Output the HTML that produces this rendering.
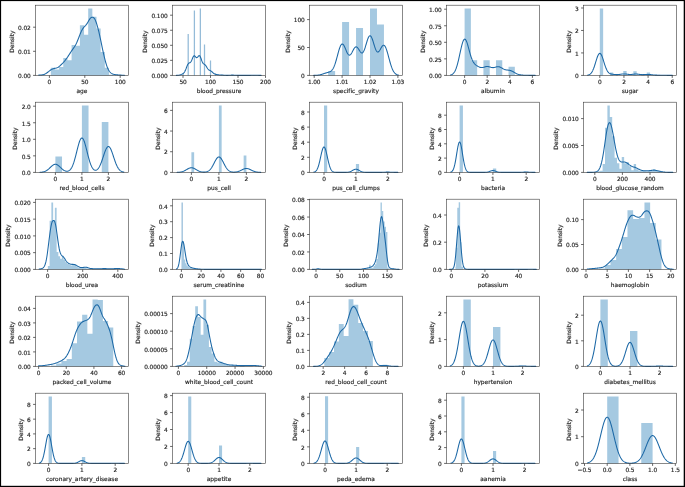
<!DOCTYPE html>
<html lang="en">
<head>
<meta charset="utf-8">
<title>Feature distributions</title>
<style>
html,body{margin:0;padding:0;background:#000;}
body{width:685px;height:487px;overflow:hidden;}
svg{display:block;}
text{font-family:"DejaVu Sans","Liberation Sans",sans-serif;font-size:5.85px;fill:#262626;stroke:#262626;stroke-width:0.17px;letter-spacing:-0.1px;}
.m{text-anchor:middle;}
.e{text-anchor:end;}
.b{fill:#a5c9e1;stroke:none;}
.t{fill:#94bbd8;}
.l{letter-spacing:0.02px;}
.a.tk{stroke-width:0.8;stroke:#404040;}
.k{fill:none;stroke:#1c68a6;stroke-width:1.06;stroke-linejoin:round;stroke-linecap:round;}
.a{fill:none;stroke:#3a3a3a;stroke-width:0.6;}
</style>
</head>
<body>
<svg width="685" height="487" viewBox="0 0 685 487">
<rect x="0" y="0" width="685" height="487" fill="#000"/>
<rect x="1.1" y="1.1" width="682.6" height="484.7" fill="#fff"/>
<g transform="translate(0,0)"><path class="b" d="M50.82 75.4H54.97V67.69H50.82ZM54.97 75.4H59.12V69.62H54.97ZM59.12 75.4H63.28V66.97H59.12ZM63.28 75.4H67.43V58.05H63.28ZM67.43 75.4H71.59V60.22H67.43ZM71.59 75.4H75.74V44.89H71.59ZM75.74 75.4H79.89V45.81H75.74ZM79.89 75.4H84.05V25.27H79.89ZM84.05 75.4H88.2V34.67H84.05ZM88.2 75.4H92.35V8.4H88.2ZM92.35 75.4H96.51V16.84H92.35ZM96.51 75.4H100.66V28.41H96.51ZM100.66 75.4H104.82V52.02H100.66ZM104.82 75.4H108.97V67.69H104.82ZM108.97 75.4H113.12V74.68H108.97Z"/><polyline class="k" points="38.78,75.13 39.14,75.1 39.5,75.07 39.86,75.04 40.21,75.02 40.57,74.99 40.93,74.97 41.29,74.94 41.65,74.92 42.01,74.88 42.36,74.84 42.72,74.78 43.08,74.71 43.44,74.62 43.8,74.52 44.16,74.39 44.52,74.25 44.87,74.08 45.23,73.9 45.59,73.7 45.95,73.49 46.31,73.26 46.67,73.02 47.02,72.77 47.38,72.51 47.74,72.24 48.1,71.96 48.46,71.68 48.82,71.4 49.17,71.11 49.53,70.83 49.89,70.56 50.25,70.3 50.61,70.04 50.97,69.81 51.33,69.59 51.68,69.39 52.04,69.21 52.4,69.05 52.76,68.9 53.12,68.77 53.48,68.66 53.83,68.55 54.19,68.46 54.55,68.38 54.91,68.3 55.27,68.23 55.63,68.16 55.99,68.09 56.34,68 56.7,67.9 57.06,67.78 57.42,67.63 57.78,67.45 58.14,67.24 58.49,67.01 58.85,66.74 59.21,66.45 59.57,66.15 59.93,65.83 60.29,65.51 60.65,65.18 61,64.85 61.36,64.51 61.72,64.17 62.08,63.82 62.44,63.46 62.8,63.09 63.15,62.7 63.51,62.31 63.87,61.9 64.23,61.48 64.59,61.05 64.95,60.61 65.3,60.16 65.66,59.7 66.02,59.23 66.38,58.74 66.74,58.24 67.1,57.73 67.46,57.2 67.81,56.67 68.17,56.13 68.53,55.59 68.89,55.04 69.25,54.49 69.61,53.94 69.96,53.4 70.32,52.85 70.68,52.3 71.04,51.75 71.4,51.2 71.76,50.66 72.12,50.13 72.47,49.62 72.83,49.11 73.19,48.61 73.55,48.11 73.91,47.6 74.27,47.09 74.62,46.54 74.98,45.97 75.34,45.36 75.7,44.71 76.06,44.02 76.42,43.28 76.78,42.5 77.13,41.68 77.49,40.83 77.85,39.94 78.21,39.04 78.57,38.12 78.93,37.19 79.28,36.25 79.64,35.32 80,34.41 80.36,33.52 80.72,32.67 81.08,31.86 81.43,31.1 81.79,30.39 82.15,29.73 82.51,29.13 82.87,28.57 83.23,28.06 83.59,27.59 83.94,27.16 84.3,26.76 84.66,26.38 85.02,26.02 85.38,25.65 85.74,25.27 86.09,24.86 86.45,24.42 86.81,23.92 87.17,23.38 87.53,22.79 87.89,22.17 88.25,21.53 88.6,20.88 88.96,20.26 89.32,19.66 89.68,19.12 90.04,18.65 90.4,18.24 90.75,17.9 91.11,17.63 91.47,17.43 91.83,17.3 92.19,17.23 92.55,17.23 92.9,17.3 93.26,17.45 93.62,17.68 93.98,18 94.34,18.43 94.7,18.97 95.06,19.61 95.41,20.37 95.77,21.23 96.13,22.19 96.49,23.23 96.85,24.36 97.21,25.55 97.56,26.81 97.92,28.13 98.28,29.51 98.64,30.95 99,32.45 99.36,34.01 99.72,35.63 100.07,37.29 100.43,38.98 100.79,40.7 101.15,42.44 101.51,44.17 101.87,45.89 102.22,47.6 102.58,49.29 102.94,50.95 103.3,52.58 103.66,54.18 104.02,55.75 104.38,57.27 104.73,58.73 105.09,60.15 105.45,61.49 105.81,62.76 106.17,63.95 106.53,65.07 106.88,66.1 107.24,67.05 107.6,67.93 107.96,68.73 108.32,69.46 108.68,70.12 109.03,70.72 109.39,71.27 109.75,71.75 110.11,72.18 110.47,72.56 110.83,72.89 111.19,73.18 111.54,73.42 111.9,73.64 112.26,73.82 112.62,73.97 112.98,74.1 113.34,74.22 113.69,74.32 114.05,74.41 114.41,74.48 114.77,74.55 115.13,74.61 115.49,74.67 115.85,74.71 116.2,74.76 116.56,74.79 116.92,74.83 117.28,74.86 117.64,74.89 118,74.92 118.35,74.95 118.71,74.98 119.07,75 119.43,75.03 119.79,75.06 120.15,75.09 120.51,75.11 120.86,75.13 121.22,75.15 121.58,75.17 121.94,75.19 122.3,75.2 122.66,75.21 123.01,75.23 123.37,75.24 123.73,75.25 124.09,75.26 124.45,75.27"/><rect class="a" x="35.6" y="5.2" width="92.8" height="70.2"/><path class="a tk" d="M49.4 75.4v2.5M84.8 75.4v2.5M120.2 75.4v2.5M35.6 75.4h-2.5M35.6 51.3h-2.5M35.6 27.2h-2.5"/><text class="m" x="49.4" y="84.15">0</text><text class="m" x="84.8" y="84.15">50</text><text class="m" x="120.2" y="84.15">100</text><text class="e" x="30.7" y="78.15">0.00</text><text class="e" x="30.7" y="54.05">0.01</text><text class="e" x="30.7" y="29.95">0.02</text><text class="m l" x="82" y="92.6">age</text><text class="m l" transform="translate(14.3,41.7) rotate(-90)">Density</text></g>
<g transform="translate(137,0)"><path class="b t" d="M45.47 75.4H46.73V72.99H45.47ZM50.57 75.4H51.83V33.98H50.57ZM56.77 75.4H58.03V10.38H56.77ZM62.72 75.4H63.98V8.58H62.72ZM66.87 75.4H68.13V44.4H66.87ZM72.87 75.4H74.13V60.59H72.87ZM77.97 75.4H79.23V73.59H77.97ZM83.87 75.4H85.13V74.68H83.87ZM94.87 75.4H96.13V74.92H94.87ZM116.27 75.4H117.53V74.92H116.27Z"/><polyline class="k" points="39.4,75.38 39.75,75.37 40.11,75.35 40.46,75.33 40.82,75.3 41.17,75.26 41.53,75.22 41.88,75.15 42.24,75.08 42.59,74.99 42.94,74.89 43.3,74.78 43.65,74.65 44.01,74.52 44.36,74.38 44.72,74.23 45.07,74.07 45.42,73.9 45.78,73.71 46.13,73.48 46.49,73.2 46.84,72.86 47.2,72.45 47.55,71.93 47.91,71.32 48.26,70.6 48.61,69.79 48.97,68.9 49.32,67.97 49.68,67.03 50.03,66.12 50.39,65.28 50.74,64.56 51.09,63.97 51.45,63.52 51.8,63.2 52.16,62.99 52.51,62.84 52.87,62.7 53.22,62.5 53.58,62.21 53.93,61.77 54.28,61.18 54.64,60.45 54.99,59.6 55.35,58.71 55.7,57.83 56.06,57.04 56.41,56.41 56.77,55.98 57.12,55.79 57.47,55.82 57.83,56.04 58.18,56.4 58.54,56.81 58.89,57.2 59.25,57.5 59.6,57.64 59.95,57.6 60.31,57.4 60.66,57.05 61.02,56.62 61.37,56.19 61.73,55.83 62.08,55.64 62.44,55.66 62.79,55.92 63.14,56.43 63.5,57.16 63.85,58.05 64.21,59.05 64.56,60.06 64.92,61.03 65.27,61.89 65.63,62.61 65.98,63.17 66.33,63.58 66.69,63.89 67.04,64.12 67.4,64.32 67.75,64.55 68.11,64.84 68.46,65.21 68.81,65.66 69.17,66.19 69.52,66.77 69.88,67.37 70.23,67.97 70.59,68.52 70.94,69 71.3,69.41 71.65,69.73 72,69.99 72.36,70.19 72.71,70.35 73.07,70.51 73.42,70.67 73.78,70.87 74.13,71.1 74.48,71.37 74.84,71.68 75.19,72.01 75.55,72.35 75.9,72.69 76.26,73.01 76.61,73.3 76.97,73.56 77.32,73.78 77.67,73.96 78.03,74.11 78.38,74.23 78.74,74.33 79.09,74.42 79.45,74.49 79.8,74.56 80.16,74.62 80.51,74.68 80.86,74.74 81.22,74.79 81.57,74.84 81.93,74.88 82.28,74.91 82.64,74.94 82.99,74.95 83.34,74.97 83.7,74.98 84.05,75 84.41,75.01 84.76,75.03 85.12,75.05 85.47,75.07 85.83,75.1 86.18,75.13 86.53,75.16 86.89,75.2 87.24,75.23 87.6,75.26 87.95,75.29 88.31,75.31 88.66,75.33 89.02,75.34 89.37,75.35 89.72,75.36 90.08,75.36 90.43,75.36 90.79,75.36 91.14,75.35 91.5,75.33 91.85,75.32 92.2,75.3 92.56,75.27 92.91,75.25 93.27,75.22 93.62,75.19 93.98,75.17 94.33,75.15 94.69,75.13 95.04,75.12 95.39,75.11 95.75,75.12 96.1,75.12 96.46,75.14 96.81,75.16 97.17,75.18 97.52,75.2 97.87,75.23 98.23,75.26 98.58,75.28 98.94,75.31 99.29,75.33 99.65,75.34 100,75.36 100.36,75.37 100.71,75.38 101.06,75.38 101.42,75.39 101.77,75.39 102.13,75.4 102.48,75.4 102.84,75.4 103.19,75.4 103.55,75.4 103.9,75.4 104.25,75.4 104.61,75.4 104.96,75.4 105.32,75.4 105.67,75.4 106.03,75.4 106.38,75.4 106.73,75.4 107.09,75.4 107.44,75.4 107.8,75.4 108.15,75.4 108.51,75.4 108.86,75.4 109.22,75.4 109.57,75.4 109.92,75.4 110.28,75.4 110.63,75.4 110.99,75.4 111.34,75.39 111.7,75.39 112.05,75.39 112.41,75.38 112.76,75.37 113.11,75.36 113.47,75.35 113.82,75.34 114.18,75.32 114.53,75.3 114.89,75.28 115.24,75.26 115.59,75.24 115.95,75.22 116.3,75.2 116.66,75.19 117.01,75.18 117.37,75.17 117.72,75.17 118.08,75.18 118.43,75.19 118.78,75.2 119.14,75.22 119.49,75.24 119.85,75.26 120.2,75.28 120.56,75.3 120.91,75.32 121.26,75.34 121.62,75.35 121.97,75.36 122.33,75.37 122.68,75.38 123.04,75.39 123.39,75.39 123.75,75.39 124.1,75.4"/><rect class="a" x="35.6" y="5.2" width="92.8" height="70.2"/><path class="a tk" d="M46 75.4v2.5M73.5 75.4v2.5M101 75.4v2.5M128.5 75.4v2.5M35.6 75.4h-2.5M35.6 60.35h-2.5M35.6 45.3h-2.5M35.6 30.25h-2.5M35.6 15.2h-2.5"/><text class="m" x="46" y="84.15">50</text><text class="m" x="73.5" y="84.15">100</text><text class="m" x="101" y="84.15">150</text><text class="m" x="128.5" y="84.15">200</text><text class="e" x="30.7" y="78.15">0.000</text><text class="e" x="30.7" y="63.1">0.025</text><text class="e" x="30.7" y="48.05">0.050</text><text class="e" x="30.7" y="33">0.075</text><text class="e" x="30.7" y="17.95">0.100</text><text class="m l" x="82" y="92.6">blood_pressure</text><text class="m l" transform="translate(10.3,41.7) rotate(-90)">Density</text></g>
<g transform="translate(274,0)"><path class="b" d="M54.15 75.4H61.12V70.99H54.15ZM68.1 75.4H75.07V22H68.1ZM82.05 75.4H89.03V27.97H82.05ZM96 75.4H102.97V8.44H96ZM102.97 75.4H109.95V24.4H102.97Z"/><polyline class="k" points="39.75,75.37 40.11,75.36 40.46,75.36 40.82,75.35 41.17,75.33 41.52,75.32 41.88,75.3 42.23,75.28 42.59,75.26 42.94,75.23 43.29,75.2 43.65,75.16 44,75.12 44.35,75.08 44.71,75.03 45.06,74.97 45.42,74.91 45.77,74.84 46.12,74.76 46.48,74.68 46.83,74.59 47.19,74.49 47.54,74.39 47.89,74.29 48.25,74.18 48.6,74.07 48.96,73.95 49.31,73.83 49.66,73.71 50.02,73.59 50.37,73.47 50.73,73.35 51.08,73.23 51.43,73.12 51.79,73.01 52.14,72.91 52.5,72.8 52.85,72.71 53.2,72.61 53.56,72.52 53.91,72.42 54.27,72.33 54.62,72.23 54.97,72.12 55.33,71.99 55.68,71.85 56.04,71.69 56.39,71.5 56.74,71.28 57.1,71.02 57.45,70.72 57.8,70.37 58.16,69.96 58.51,69.48 58.87,68.94 59.22,68.33 59.57,67.65 59.93,66.89 60.28,66.05 60.64,65.13 60.99,64.14 61.34,63.07 61.7,61.94 62.05,60.75 62.41,59.5 62.76,58.22 63.11,56.91 63.47,55.58 63.82,54.25 64.18,52.94 64.53,51.66 64.88,50.43 65.24,49.27 65.59,48.19 65.95,47.21 66.3,46.34 66.65,45.59 67.01,44.99 67.36,44.52 67.72,44.2 68.07,44.03 68.42,44.02 68.78,44.15 69.13,44.42 69.48,44.82 69.84,45.34 70.19,45.96 70.55,46.68 70.9,47.46 71.25,48.28 71.61,49.14 71.96,50 72.32,50.86 72.67,51.67 73.02,52.44 73.38,53.13 73.73,53.74 74.09,54.25 74.44,54.65 74.79,54.94 75.15,55.1 75.5,55.14 75.86,55.06 76.21,54.86 76.56,54.55 76.92,54.14 77.27,53.65 77.63,53.08 77.98,52.46 78.33,51.8 78.69,51.11 79.04,50.43 79.4,49.76 79.75,49.13 80.1,48.55 80.46,48.04 80.81,47.61 81.17,47.27 81.52,47.04 81.87,46.9 82.23,46.88 82.58,46.96 82.93,47.15 83.29,47.43 83.64,47.8 84,48.24 84.35,48.74 84.7,49.29 85.06,49.86 85.41,50.43 85.77,50.99 86.12,51.52 86.47,51.99 86.83,52.38 87.18,52.69 87.54,52.89 87.89,52.97 88.24,52.92 88.6,52.74 88.95,52.41 89.31,51.95 89.66,51.35 90.01,50.62 90.37,49.77 90.72,48.81 91.08,47.76 91.43,46.64 91.78,45.47 92.14,44.27 92.49,43.06 92.85,41.88 93.2,40.74 93.55,39.66 93.91,38.69 94.26,37.82 94.62,37.08 94.97,36.5 95.32,36.07 95.68,35.82 96.03,35.74 96.38,35.84 96.74,36.11 97.09,36.55 97.45,37.14 97.8,37.89 98.15,38.75 98.51,39.73 98.86,40.79 99.22,41.91 99.57,43.07 99.92,44.25 100.28,45.41 100.63,46.53 100.99,47.59 101.34,48.57 101.69,49.46 102.05,50.22 102.4,50.87 102.76,51.37 103.11,51.73 103.46,51.95 103.82,52.03 104.17,51.97 104.53,51.78 104.88,51.47 105.23,51.06 105.59,50.56 105.94,50 106.3,49.38 106.65,48.75 107,48.11 107.36,47.48 107.71,46.9 108.06,46.38 108.42,45.93 108.77,45.58 109.13,45.34 109.48,45.22 109.83,45.23 110.19,45.37 110.54,45.66 110.9,46.08 111.25,46.64 111.6,47.34 111.96,48.15 112.31,49.08 112.67,50.11 113.02,51.23 113.37,52.42 113.73,53.67 114.08,54.95 114.44,56.27 114.79,57.6 115.14,58.92 115.5,60.23 115.85,61.51 116.21,62.75 116.56,63.94 116.91,65.08 117.27,66.15 117.62,67.16 117.98,68.09 118.33,68.96 118.68,69.75 119.04,70.48 119.39,71.13 119.75,71.72 120.1,72.24 120.45,72.7 120.81,73.11 121.16,73.47 121.51,73.78 121.87,74.05 122.22,74.28 122.58,74.47 122.93,74.64 123.28,74.78 123.64,74.89 123.99,74.99 124.35,75.07"/><rect class="a" x="35.6" y="5.2" width="92.8" height="70.2"/><path class="a tk" d="M40.2 75.4v2.5M68.1 75.4v2.5M96 75.4v2.5M123.9 75.4v2.5M35.6 75.4h-2.5M35.6 47.5h-2.5M35.6 19.6h-2.5"/><text class="m" x="40.2" y="84.15">1.00</text><text class="m" x="68.1" y="84.15">1.01</text><text class="m" x="96" y="84.15">1.02</text><text class="m" x="123.9" y="84.15">1.03</text><text class="e" x="30.7" y="78.15">0</text><text class="e" x="30.7" y="50.25">50</text><text class="e" x="30.7" y="22.35">100</text><text class="m l" x="82" y="92.6">specific_gravity</text><text class="m l" transform="translate(15.7,41.7) rotate(-90)">Density</text></g>
<g transform="translate(411,0)"><path class="b" d="M53.6 75.4H59.88V8.41H53.6ZM59.88 75.4H66.16V60.37H59.88ZM72.43 75.4H78.71V60.37H72.43ZM84.99 75.4H91.27V60.37H84.99ZM97.54 75.4H103.82V66.79H97.54ZM103.82 75.4H110.1V75H103.82Z"/><polyline class="k" points="39.53,75 39.89,74.9 40.24,74.78 40.59,74.63 40.95,74.46 41.3,74.25 41.66,74 42.01,73.71 42.36,73.37 42.72,72.97 43.07,72.52 43.43,71.99 43.78,71.4 44.14,70.73 44.49,69.97 44.84,69.13 45.2,68.21 45.55,67.19 45.91,66.08 46.26,64.88 46.61,63.59 46.97,62.22 47.32,60.78 47.68,59.26 48.03,57.7 48.38,56.09 48.74,54.45 49.09,52.81 49.45,51.17 49.8,49.56 50.16,48 50.51,46.51 50.86,45.11 51.22,43.81 51.57,42.65 51.93,41.63 52.28,40.77 52.63,40.08 52.99,39.58 53.34,39.26 53.7,39.14 54.05,39.2 54.4,39.46 54.76,39.89 55.11,40.5 55.47,41.26 55.82,42.16 56.18,43.18 56.53,44.31 56.88,45.51 57.24,46.78 57.59,48.09 57.95,49.42 58.3,50.75 58.65,52.06 59.01,53.33 59.36,54.56 59.72,55.74 60.07,56.84 60.43,57.87 60.78,58.82 61.13,59.69 61.49,60.48 61.84,61.2 62.2,61.84 62.55,62.42 62.9,62.93 63.26,63.39 63.61,63.79 63.97,64.16 64.32,64.49 64.67,64.8 65.03,65.08 65.38,65.34 65.74,65.59 66.09,65.82 66.45,66.04 66.8,66.26 67.15,66.46 67.51,66.65 67.86,66.83 68.22,66.99 68.57,67.14 68.92,67.27 69.28,67.38 69.63,67.46 69.99,67.53 70.34,67.56 70.69,67.58 71.05,67.57 71.4,67.53 71.76,67.48 72.11,67.41 72.47,67.32 72.82,67.22 73.17,67.12 73.53,67.01 73.88,66.9 74.24,66.8 74.59,66.71 74.94,66.63 75.3,66.57 75.65,66.53 76.01,66.5 76.36,66.5 76.72,66.52 77.07,66.57 77.42,66.63 77.78,66.7 78.13,66.79 78.49,66.89 78.84,67 79.19,67.11 79.55,67.22 79.9,67.32 80.26,67.41 80.61,67.49 80.96,67.55 81.32,67.59 81.67,67.62 82.03,67.62 82.38,67.6 82.74,67.56 83.09,67.5 83.44,67.43 83.8,67.34 84.15,67.24 84.51,67.14 84.86,67.04 85.21,66.95 85.57,66.86 85.92,66.78 86.28,66.72 86.63,66.68 86.98,66.67 87.34,66.68 87.69,66.71 88.05,66.78 88.4,66.86 88.76,66.98 89.11,67.12 89.46,67.28 89.82,67.45 90.17,67.64 90.53,67.85 90.88,68.06 91.23,68.27 91.59,68.48 91.94,68.68 92.3,68.87 92.65,69.06 93.01,69.23 93.36,69.38 93.71,69.51 94.07,69.63 94.42,69.73 94.78,69.82 95.13,69.89 95.48,69.95 95.84,69.99 96.19,70.03 96.55,70.07 96.9,70.1 97.25,70.13 97.61,70.17 97.96,70.22 98.32,70.27 98.67,70.34 99.03,70.42 99.38,70.51 99.73,70.62 100.09,70.75 100.44,70.89 100.8,71.04 101.15,71.21 101.5,71.39 101.86,71.58 102.21,71.78 102.57,71.98 102.92,72.19 103.27,72.4 103.63,72.61 103.98,72.81 104.34,73.02 104.69,73.21 105.05,73.4 105.4,73.58 105.75,73.75 106.11,73.9 106.46,74.05 106.82,74.19 107.17,74.31 107.52,74.42 107.88,74.53 108.23,74.62 108.59,74.7 108.94,74.77 109.3,74.84 109.65,74.89 110,74.94 110.36,74.99 110.71,75.03 111.07,75.06 111.42,75.09 111.77,75.12 112.13,75.15 112.48,75.17 112.84,75.19 113.19,75.21 113.54,75.22 113.9,75.24 114.25,75.25 114.61,75.26 114.96,75.28 115.32,75.29 115.67,75.3 116.02,75.31 116.38,75.32 116.73,75.33 117.09,75.33 117.44,75.34 117.79,75.35 118.15,75.36 118.5,75.36 118.86,75.37 119.21,75.37 119.56,75.37 119.92,75.38 120.27,75.38 120.63,75.38 120.98,75.39 121.34,75.39 121.69,75.39 122.04,75.39 122.4,75.39 122.75,75.39 123.11,75.4 123.46,75.4 123.81,75.4 124.17,75.4"/><rect class="a" x="35.6" y="5.2" width="92.8" height="70.2"/><path class="a tk" d="M53.6 75.4v2.5M76.2 75.4v2.5M98.8 75.4v2.5M121.4 75.4v2.5M35.6 75.4h-2.5M35.6 58.85h-2.5M35.6 42.3h-2.5M35.6 25.75h-2.5M35.6 9.2h-2.5"/><text class="m" x="53.6" y="84.15">0</text><text class="m" x="76.2" y="84.15">2</text><text class="m" x="98.8" y="84.15">4</text><text class="m" x="121.4" y="84.15">6</text><text class="e" x="30.7" y="78.15">0.00</text><text class="e" x="30.7" y="61.6">0.25</text><text class="e" x="30.7" y="45.05">0.50</text><text class="e" x="30.7" y="28.5">0.75</text><text class="e" x="30.7" y="11.95">1.00</text><text class="m l" x="82" y="92.6">albumin</text><text class="m l" transform="translate(14.3,41.7) rotate(-90)">Density</text></g>
<g transform="translate(548,0)"><path class="b" d="M51.8 75.4H55.15V8.44H51.8ZM61.86 75.4H65.21V72.48H61.86ZM75.27 75.4H78.62V70.91H75.27ZM85.33 75.4H88.68V71.36H85.33ZM98.74 75.4H102.09V72.48H98.74ZM108.8 75.4H112.15V74.73H108.8Z"/><polyline class="k" points="39.6,75.16 39.95,75.08 40.31,74.99 40.66,74.88 41.02,74.74 41.37,74.58 41.72,74.38 42.08,74.13 42.43,73.85 42.79,73.51 43.14,73.11 43.5,72.66 43.85,72.13 44.21,71.54 44.56,70.88 44.92,70.14 45.27,69.33 45.63,68.44 45.98,67.49 46.34,66.47 46.69,65.4 47.04,64.28 47.4,63.13 47.75,61.97 48.11,60.81 48.46,59.67 48.82,58.57 49.17,57.52 49.53,56.56 49.88,55.69 50.24,54.94 50.59,54.32 50.95,53.85 51.3,53.53 51.65,53.38 52.01,53.39 52.36,53.57 52.72,53.91 53.07,54.4 53.43,55.03 53.78,55.8 54.14,56.67 54.49,57.64 54.85,58.68 55.2,59.77 55.56,60.9 55.91,62.04 56.26,63.17 56.62,64.29 56.97,65.36 57.33,66.39 57.68,67.36 58.04,68.26 58.39,69.09 58.75,69.84 59.1,70.52 59.46,71.12 59.81,71.65 60.17,72.11 60.52,72.5 60.87,72.84 61.23,73.12 61.58,73.36 61.94,73.55 62.29,73.72 62.65,73.85 63,73.96 63.36,74.05 63.71,74.12 64.07,74.19 64.42,74.25 64.78,74.3 65.13,74.34 65.48,74.38 65.84,74.42 66.19,74.46 66.55,74.5 66.9,74.53 67.26,74.56 67.61,74.58 67.97,74.6 68.32,74.61 68.68,74.62 69.03,74.62 69.39,74.62 69.74,74.6 70.1,74.58 70.45,74.55 70.8,74.52 71.16,74.47 71.51,74.43 71.87,74.37 72.22,74.32 72.58,74.26 72.93,74.21 73.29,74.15 73.64,74.1 74,74.05 74.35,74.01 74.71,73.97 75.06,73.94 75.41,73.92 75.77,73.91 76.12,73.91 76.48,73.92 76.83,73.94 77.19,73.96 77.54,73.99 77.9,74.03 78.25,74.08 78.61,74.13 78.96,74.18 79.32,74.23 79.67,74.28 80.02,74.32 80.38,74.36 80.73,74.4 81.09,74.43 81.44,74.45 81.8,74.47 82.15,74.47 82.51,74.47 82.86,74.46 83.22,74.44 83.57,74.41 83.93,74.38 84.28,74.35 84.63,74.31 84.99,74.27 85.34,74.22 85.7,74.18 86.05,74.15 86.41,74.11 86.76,74.08 87.12,74.06 87.47,74.05 87.83,74.04 88.18,74.04 88.54,74.05 88.89,74.07 89.24,74.1 89.6,74.13 89.95,74.17 90.31,74.21 90.66,74.26 91.02,74.31 91.37,74.36 91.73,74.41 92.08,74.46 92.44,74.5 92.79,74.54 93.15,74.58 93.5,74.61 93.85,74.63 94.21,74.65 94.56,74.65 94.92,74.66 95.27,74.65 95.63,74.64 95.98,74.63 96.34,74.61 96.69,74.59 97.05,74.56 97.4,74.54 97.76,74.51 98.11,74.49 98.47,74.47 98.82,74.45 99.17,74.43 99.53,74.43 99.88,74.42 100.24,74.43 100.59,74.44 100.95,74.45 101.3,74.47 101.66,74.5 102.01,74.53 102.37,74.57 102.72,74.61 103.08,74.65 103.43,74.7 103.78,74.74 104.14,74.79 104.49,74.83 104.85,74.88 105.2,74.92 105.56,74.96 105.91,74.99 106.27,75.02 106.62,75.05 106.98,75.08 107.33,75.1 107.69,75.12 108.04,75.13 108.39,75.14 108.75,75.15 109.1,75.16 109.46,75.16 109.81,75.16 110.17,75.17 110.52,75.17 110.88,75.17 111.23,75.17 111.59,75.17 111.94,75.17 112.3,75.18 112.65,75.18 113,75.19 113.36,75.19 113.71,75.2 114.07,75.21 114.42,75.22 114.78,75.23 115.13,75.24 115.49,75.25 115.84,75.26 116.2,75.27 116.55,75.28 116.91,75.29 117.26,75.3 117.61,75.31 117.97,75.32 118.32,75.33 118.68,75.34 119.03,75.35 119.39,75.36 119.74,75.36 120.1,75.37 120.45,75.37 120.81,75.38 121.16,75.38 121.52,75.38 121.87,75.39 122.23,75.39 122.58,75.39 122.93,75.39 123.29,75.39 123.64,75.4 124,75.4 124.35,75.4"/><rect class="a" x="35.6" y="5.2" width="92.8" height="70.2"/><path class="a tk" d="M51.8 75.4v2.5M75.94 75.4v2.5M100.08 75.4v2.5M124.22 75.4v2.5M35.6 75.4h-2.5M35.6 52.93h-2.5M35.6 30.46h-2.5M35.6 7.99h-2.5"/><text class="m" x="51.8" y="84.15">0</text><text class="m" x="75.94" y="84.15">2</text><text class="m" x="100.08" y="84.15">4</text><text class="m" x="124.22" y="84.15">6</text><text class="e" x="30.7" y="78.15">0</text><text class="e" x="30.7" y="55.68">1</text><text class="e" x="30.7" y="33.21">2</text><text class="e" x="30.7" y="10.74">3</text><text class="m l" x="82" y="92.6">sugar</text><text class="m l" transform="translate(23.3,41.7) rotate(-90)">Density</text></g>
<g transform="translate(0,97)"><path class="b" d="M55.4 75.4H62.02V59.61H55.4ZM81.9 75.4H88.53V8.54H81.9ZM101.78 75.4H108.4V25.09H101.78Z"/><polyline class="k" points="39.98,75.31 40.33,75.29 40.68,75.27 41.03,75.24 41.38,75.2 41.73,75.16 42.08,75.12 42.43,75.06 42.78,75 43.13,74.93 43.49,74.85 43.84,74.75 44.19,74.65 44.54,74.53 44.89,74.4 45.24,74.25 45.59,74.09 45.94,73.91 46.29,73.71 46.64,73.5 46.99,73.27 47.34,73.03 47.7,72.77 48.05,72.49 48.4,72.2 48.75,71.89 49.1,71.58 49.45,71.25 49.8,70.92 50.15,70.59 50.5,70.26 50.85,69.92 51.2,69.6 51.55,69.28 51.9,68.97 52.26,68.68 52.61,68.41 52.96,68.16 53.31,67.94 53.66,67.75 54.01,67.59 54.36,67.46 54.71,67.37 55.06,67.32 55.41,67.3 55.76,67.32 56.11,67.38 56.47,67.47 56.82,67.6 57.17,67.76 57.52,67.96 57.87,68.18 58.22,68.43 58.57,68.7 58.92,68.99 59.27,69.3 59.62,69.62 59.97,69.94 60.32,70.28 60.68,70.61 61.03,70.94 61.38,71.27 61.73,71.59 62.08,71.9 62.43,72.19 62.78,72.48 63.13,72.74 63.48,72.99 63.83,73.22 64.18,73.43 64.53,73.61 64.89,73.78 65.24,73.92 65.59,74.04 65.94,74.13 66.29,74.2 66.64,74.24 66.99,74.25 67.34,74.23 67.69,74.18 68.04,74.1 68.39,73.98 68.74,73.82 69.1,73.62 69.45,73.38 69.8,73.09 70.15,72.75 70.5,72.35 70.85,71.9 71.2,71.39 71.55,70.81 71.9,70.17 72.25,69.45 72.6,68.67 72.95,67.81 73.3,66.88 73.66,65.88 74.01,64.81 74.36,63.67 74.71,62.47 75.06,61.21 75.41,59.9 75.76,58.55 76.11,57.16 76.46,55.75 76.81,54.33 77.16,52.91 77.51,51.51 77.87,50.14 78.22,48.81 78.57,47.54 78.92,46.35 79.27,45.25 79.62,44.25 79.97,43.36 80.32,42.61 80.67,41.99 81.02,41.52 81.37,41.21 81.72,41.05 82.08,41.05 82.43,41.21 82.78,41.52 83.13,41.99 83.48,42.61 83.83,43.36 84.18,44.25 84.53,45.25 84.88,46.35 85.23,47.54 85.58,48.81 85.93,50.13 86.29,51.51 86.64,52.91 86.99,54.33 87.34,55.75 87.69,57.16 88.04,58.54 88.39,59.89 88.74,61.2 89.09,62.46 89.44,63.65 89.79,64.79 90.14,65.85 90.5,66.84 90.85,67.76 91.2,68.6 91.55,69.37 91.9,70.06 92.25,70.68 92.6,71.23 92.95,71.71 93.3,72.11 93.65,72.46 94,72.74 94.35,72.95 94.7,73.11 95.06,73.21 95.41,73.25 95.76,73.23 96.11,73.16 96.46,73.03 96.81,72.85 97.16,72.61 97.51,72.31 97.86,71.96 98.21,71.54 98.56,71.07 98.91,70.54 99.27,69.95 99.62,69.3 99.97,68.59 100.32,67.83 100.67,67.01 101.02,66.14 101.37,65.22 101.72,64.26 102.07,63.26 102.42,62.23 102.77,61.18 103.12,60.11 103.48,59.05 103.83,57.98 104.18,56.94 104.53,55.92 104.88,54.94 105.23,54.01 105.58,53.15 105.93,52.35 106.28,51.64 106.63,51.02 106.98,50.5 107.33,50.08 107.69,49.78 108.04,49.6 108.39,49.53 108.74,49.59 109.09,49.77 109.44,50.06 109.79,50.46 110.14,50.98 110.49,51.59 110.84,52.3 111.19,53.08 111.54,53.95 111.9,54.87 112.25,55.85 112.6,56.86 112.95,57.91 113.3,58.97 113.65,60.04 114,61.11 114.35,62.16 114.7,63.2 115.05,64.2 115.4,65.17 115.75,66.1 116.1,66.99 116.46,67.82 116.81,68.61 117.16,69.34 117.51,70.02 117.86,70.64 118.21,71.21 118.56,71.73 118.91,72.2 119.26,72.62 119.61,73 119.96,73.34 120.31,73.64 120.67,73.9 121.02,74.13 121.37,74.33 121.72,74.5 122.07,74.65 122.42,74.77 122.77,74.88 123.12,74.97 123.47,75.05 123.82,75.11"/><rect class="a" x="35.6" y="5.2" width="92.8" height="70.2"/><path class="a tk" d="M55.4 75.4v2.5M81.9 75.4v2.5M108.4 75.4v2.5M35.6 75.4h-2.5M35.6 58.85h-2.5M35.6 42.3h-2.5M35.6 25.75h-2.5M35.6 9.2h-2.5"/><text class="m" x="55.4" y="84.15">0</text><text class="m" x="81.9" y="84.15">1</text><text class="m" x="108.4" y="84.15">2</text><text class="e" x="30.7" y="78.15">0.0</text><text class="e" x="30.7" y="61.6">0.5</text><text class="e" x="30.7" y="45.05">1.0</text><text class="e" x="30.7" y="28.5">1.5</text><text class="e" x="30.7" y="11.95">2.0</text><text class="m l" x="82" y="92.6">red_blood_cells</text><text class="m l" transform="translate(17.3,41.7) rotate(-90)">Density</text></g>
<g transform="translate(137,97)"><path class="b" d="M54.4 75.4H57.15V55.25H54.4ZM81.9 75.4H84.65V8.43H81.9ZM106.65 75.4H109.4V58.4H106.65Z"/><polyline class="k" points="40.09,75.35 40.44,75.34 40.79,75.32 41.14,75.3 41.49,75.28 41.84,75.26 42.19,75.23 42.54,75.19 42.89,75.15 43.24,75.1 43.59,75.04 43.94,74.98 44.29,74.91 44.64,74.83 44.98,74.74 45.33,74.64 45.68,74.53 46.03,74.4 46.38,74.27 46.73,74.13 47.08,73.97 47.43,73.8 47.78,73.63 48.13,73.44 48.48,73.25 48.83,73.05 49.18,72.85 49.53,72.65 49.88,72.44 50.23,72.24 50.58,72.03 50.93,71.84 51.28,71.66 51.63,71.48 51.98,71.32 52.33,71.18 52.68,71.06 53.03,70.95 53.38,70.87 53.73,70.81 54.08,70.78 54.43,70.77 54.78,70.78 55.13,70.82 55.48,70.88 55.83,70.97 56.18,71.08 56.53,71.21 56.88,71.35 57.23,71.51 57.58,71.69 57.93,71.88 58.28,72.07 58.63,72.27 58.98,72.48 59.33,72.68 59.68,72.89 60.03,73.09 60.38,73.29 60.73,73.48 61.08,73.66 61.43,73.83 61.78,74 62.13,74.15 62.48,74.29 62.83,74.42 63.18,74.54 63.53,74.65 63.88,74.74 64.23,74.83 64.58,74.9 64.93,74.97 65.28,75.02 65.63,75.06 65.98,75.1 66.33,75.12 66.68,75.14 67.03,75.14 67.38,75.14 67.73,75.12 68.08,75.09 68.43,75.05 68.78,75 69.13,74.93 69.48,74.85 69.83,74.75 70.18,74.63 70.53,74.49 70.88,74.32 71.23,74.13 71.58,73.91 71.93,73.66 72.28,73.38 72.63,73.07 72.98,72.72 73.33,72.33 73.68,71.91 74.03,71.45 74.38,70.96 74.73,70.43 75.08,69.86 75.43,69.27 75.78,68.64 76.13,67.99 76.48,67.33 76.83,66.65 77.18,65.97 77.53,65.28 77.88,64.61 78.23,63.95 78.58,63.32 78.93,62.72 79.28,62.16 79.63,61.65 79.98,61.2 80.33,60.82 80.68,60.5 81.03,60.26 81.38,60.09 81.73,60.01 82.07,60.01 82.42,60.09 82.77,60.26 83.12,60.5 83.47,60.82 83.82,61.2 84.17,61.65 84.52,62.16 84.87,62.72 85.22,63.32 85.57,63.95 85.92,64.61 86.27,65.28 86.62,65.97 86.97,66.65 87.32,67.33 87.67,67.99 88.02,68.64 88.37,69.27 88.72,69.86 89.07,70.43 89.42,70.96 89.77,71.45 90.12,71.91 90.47,72.33 90.82,72.72 91.17,73.07 91.52,73.38 91.87,73.66 92.22,73.91 92.57,74.13 92.92,74.32 93.27,74.49 93.62,74.63 93.97,74.75 94.32,74.85 94.67,74.94 95.02,75.01 95.37,75.06 95.72,75.1 96.07,75.13 96.42,75.15 96.77,75.16 97.12,75.16 97.47,75.15 97.82,75.14 98.17,75.11 98.52,75.07 98.87,75.03 99.22,74.98 99.57,74.92 99.92,74.84 100.27,74.76 100.62,74.67 100.97,74.57 101.32,74.46 101.67,74.34 102.02,74.22 102.37,74.08 102.72,73.93 103.07,73.78 103.42,73.62 103.77,73.45 104.12,73.28 104.47,73.11 104.82,72.93 105.17,72.76 105.52,72.59 105.87,72.43 106.22,72.27 106.57,72.12 106.92,71.99 107.27,71.86 107.62,71.75 107.97,71.66 108.32,71.59 108.67,71.54 109.02,71.5 109.37,71.49 109.72,71.5 110.07,71.53 110.42,71.58 110.77,71.65 111.12,71.74 111.47,71.84 111.82,71.96 112.17,72.1 112.52,72.24 112.87,72.4 113.22,72.56 113.57,72.73 113.92,72.9 114.27,73.08 114.62,73.25 114.97,73.42 115.32,73.59 115.67,73.75 116.02,73.91 116.37,74.05 116.72,74.19 117.07,74.32 117.42,74.45 117.77,74.56 118.12,74.66 118.47,74.76 118.82,74.84 119.16,74.92 119.51,74.99 119.86,75.05 120.21,75.1 120.56,75.15 120.91,75.19 121.26,75.22 121.61,75.25 121.96,75.28 122.31,75.3 122.66,75.32 123.01,75.33 123.36,75.35 123.71,75.36"/><rect class="a" x="35.6" y="5.2" width="92.8" height="70.2"/><path class="a tk" d="M54.4 75.4v2.5M81.9 75.4v2.5M109.4 75.4v2.5M35.6 75.4h-2.5M35.6 54.73h-2.5M35.6 34.06h-2.5M35.6 13.39h-2.5"/><text class="m" x="54.4" y="84.15">0</text><text class="m" x="81.9" y="84.15">1</text><text class="m" x="109.4" y="84.15">2</text><text class="e" x="30.7" y="78.15">0</text><text class="e" x="30.7" y="57.48">2</text><text class="e" x="30.7" y="36.81">4</text><text class="e" x="30.7" y="16.14">6</text><text class="m l" x="82" y="92.6">pus_cell</text><text class="m l" transform="translate(23.3,41.7) rotate(-90)">Density</text></g>
<g transform="translate(274,97)"><path class="b" d="M50 75.4H53.19V8.43H50ZM81.9 75.4H85.09V67.02H81.9ZM110.61 75.4H113.8V74.65H110.61Z"/><polyline class="k" points="39.95,75.12 40.3,75.02 40.65,74.88 41,74.71 41.36,74.49 41.71,74.21 42.06,73.87 42.41,73.45 42.76,72.94 43.11,72.33 43.46,71.61 43.81,70.78 44.16,69.82 44.51,68.74 44.87,67.54 45.22,66.22 45.57,64.8 45.92,63.29 46.27,61.71 46.62,60.1 46.97,58.49 47.32,56.91 47.67,55.41 48.03,54.01 48.38,52.78 48.73,51.73 49.08,50.9 49.43,50.32 49.78,50.01 50.13,49.98 50.48,50.22 50.83,50.73 51.18,51.5 51.54,52.49 51.89,53.69 52.24,55.04 52.59,56.53 52.94,58.09 53.29,59.7 53.64,61.31 53.99,62.9 54.34,64.43 54.69,65.87 55.05,67.22 55.4,68.45 55.75,69.56 56.1,70.55 56.45,71.42 56.8,72.16 57.15,72.8 57.5,73.33 57.85,73.77 58.21,74.13 58.56,74.43 58.91,74.66 59.26,74.84 59.61,74.98 59.96,75.09 60.31,75.18 60.66,75.24 61.01,75.29 61.36,75.32 61.72,75.34 62.07,75.36 62.42,75.37 62.77,75.38 63.12,75.39 63.47,75.39 63.82,75.39 64.17,75.4 64.52,75.4 64.87,75.4 65.23,75.4 65.58,75.4 65.93,75.4 66.28,75.4 66.63,75.4 66.98,75.4 67.33,75.4 67.68,75.4 68.03,75.4 68.39,75.4 68.74,75.4 69.09,75.4 69.44,75.4 69.79,75.4 70.14,75.39 70.49,75.39 70.84,75.39 71.19,75.38 71.54,75.37 71.9,75.36 72.25,75.35 72.6,75.33 72.95,75.31 73.3,75.28 73.65,75.25 74,75.2 74.35,75.15 74.7,75.08 75.05,75.01 75.41,74.91 75.76,74.81 76.11,74.69 76.46,74.55 76.81,74.4 77.16,74.23 77.51,74.05 77.86,73.86 78.21,73.66 78.57,73.46 78.92,73.26 79.27,73.06 79.62,72.88 79.97,72.7 80.32,72.55 80.67,72.42 81.02,72.32 81.37,72.25 81.72,72.22 82.08,72.22 82.43,72.25 82.78,72.32 83.13,72.42 83.48,72.55 83.83,72.7 84.18,72.88 84.53,73.06 84.88,73.26 85.23,73.46 85.59,73.66 85.94,73.86 86.29,74.05 86.64,74.23 86.99,74.4 87.34,74.55 87.69,74.69 88.04,74.81 88.39,74.91 88.75,75.01 89.1,75.08 89.45,75.15 89.8,75.2 90.15,75.25 90.5,75.28 90.85,75.31 91.2,75.33 91.55,75.35 91.9,75.36 92.26,75.37 92.61,75.38 92.96,75.39 93.31,75.39 93.66,75.39 94.01,75.4 94.36,75.4 94.71,75.4 95.06,75.4 95.41,75.4 95.77,75.4 96.12,75.4 96.47,75.4 96.82,75.4 97.17,75.4 97.52,75.4 97.87,75.4 98.22,75.4 98.57,75.4 98.93,75.4 99.28,75.4 99.63,75.4 99.98,75.4 100.33,75.4 100.68,75.4 101.03,75.4 101.38,75.4 101.73,75.4 102.08,75.4 102.44,75.4 102.79,75.4 103.14,75.4 103.49,75.4 103.84,75.4 104.19,75.4 104.54,75.39 104.89,75.39 105.24,75.39 105.59,75.39 105.95,75.38 106.3,75.38 106.65,75.37 107,75.36 107.35,75.36 107.7,75.35 108.05,75.33 108.4,75.32 108.75,75.31 109.11,75.29 109.46,75.28 109.81,75.26 110.16,75.24 110.51,75.22 110.86,75.2 111.21,75.19 111.56,75.17 111.91,75.16 112.26,75.14 112.62,75.13 112.97,75.12 113.32,75.12 113.67,75.11 114.02,75.11 114.37,75.12 114.72,75.12 115.07,75.13 115.42,75.14 115.77,75.16 116.13,75.17 116.48,75.19 116.83,75.21 117.18,75.23 117.53,75.25 117.88,75.26 118.23,75.28 118.58,75.3 118.93,75.31 119.29,75.32 119.64,75.34 119.99,75.35 120.34,75.36 120.69,75.37 121.04,75.37 121.39,75.38 121.74,75.38 122.09,75.39 122.44,75.39 122.8,75.39 123.15,75.39 123.5,75.4 123.85,75.4"/><rect class="a" x="35.6" y="5.2" width="92.8" height="70.2"/><path class="a tk" d="M50 75.4v2.5M81.9 75.4v2.5M113.8 75.4v2.5M35.6 75.4h-2.5M35.6 60.3h-2.5M35.6 45.2h-2.5M35.6 30.1h-2.5M35.6 15h-2.5"/><text class="m" x="50" y="84.15">0</text><text class="m" x="81.9" y="84.15">1</text><text class="m" x="113.8" y="84.15">2</text><text class="e" x="30.7" y="78.15">0</text><text class="e" x="30.7" y="63.05">2</text><text class="e" x="30.7" y="47.95">4</text><text class="e" x="30.7" y="32.85">6</text><text class="e" x="30.7" y="17.75">8</text><text class="m l" x="82" y="92.6">pus_cell_clumps</text><text class="m l" transform="translate(23.3,41.7) rotate(-90)">Density</text></g>
<g transform="translate(411,97)"><path class="b" d="M48.6 75.4H51.93V8.4H48.6ZM81.9 75.4H85.23V71.4H81.9ZM111.87 75.4H115.2V74.69H111.87Z"/><polyline class="k" points="39.81,75.06 40.16,74.92 40.51,74.73 40.87,74.47 41.22,74.13 41.57,73.69 41.92,73.14 42.27,72.44 42.63,71.6 42.98,70.58 43.33,69.37 43.68,67.97 44.04,66.37 44.39,64.59 44.74,62.64 45.09,60.56 45.44,58.39 45.8,56.18 46.15,53.99 46.5,51.9 46.85,49.97 47.21,48.28 47.56,46.89 47.91,45.86 48.26,45.23 48.61,45.03 48.97,45.26 49.32,45.93 49.67,46.99 50.02,48.41 50.38,50.12 50.73,52.07 51.08,54.17 51.43,56.36 51.78,58.57 52.14,60.74 52.49,62.81 52.84,64.74 53.19,66.51 53.55,68.09 53.9,69.47 54.25,70.67 54.6,71.67 54.95,72.51 55.31,73.19 55.66,73.73 56.01,74.16 56.36,74.49 56.72,74.74 57.07,74.93 57.42,75.07 57.77,75.17 58.12,75.25 58.48,75.3 58.83,75.33 59.18,75.36 59.53,75.37 59.89,75.38 60.24,75.39 60.59,75.39 60.94,75.4 61.29,75.4 61.65,75.4 62,75.4 62.35,75.4 62.7,75.4 63.06,75.4 63.41,75.4 63.76,75.4 64.11,75.4 64.46,75.4 64.82,75.4 65.17,75.4 65.52,75.4 65.87,75.4 66.23,75.4 66.58,75.4 66.93,75.4 67.28,75.4 67.63,75.4 67.99,75.4 68.34,75.4 68.69,75.4 69.04,75.4 69.4,75.4 69.75,75.4 70.1,75.4 70.45,75.4 70.8,75.4 71.16,75.4 71.51,75.4 71.86,75.39 72.21,75.39 72.57,75.39 72.92,75.38 73.27,75.38 73.62,75.37 73.97,75.35 74.33,75.34 74.68,75.31 75.03,75.28 75.38,75.25 75.74,75.2 76.09,75.15 76.44,75.08 76.79,75 77.14,74.91 77.5,74.81 77.85,74.7 78.2,74.58 78.55,74.45 78.91,74.32 79.26,74.19 79.61,74.06 79.96,73.94 80.31,73.83 80.67,73.74 81.02,73.66 81.37,73.61 81.72,73.59 82.08,73.59 82.43,73.61 82.78,73.66 83.13,73.74 83.49,73.83 83.84,73.94 84.19,74.06 84.54,74.19 84.89,74.32 85.25,74.45 85.6,74.58 85.95,74.7 86.3,74.81 86.66,74.91 87.01,75 87.36,75.08 87.71,75.15 88.06,75.2 88.42,75.25 88.77,75.28 89.12,75.31 89.47,75.34 89.83,75.35 90.18,75.37 90.53,75.38 90.88,75.38 91.23,75.39 91.59,75.39 91.94,75.39 92.29,75.4 92.64,75.4 93,75.4 93.35,75.4 93.7,75.4 94.05,75.4 94.4,75.4 94.76,75.4 95.11,75.4 95.46,75.4 95.81,75.4 96.17,75.4 96.52,75.4 96.87,75.4 97.22,75.4 97.57,75.4 97.93,75.4 98.28,75.4 98.63,75.4 98.98,75.4 99.34,75.4 99.69,75.4 100.04,75.4 100.39,75.4 100.74,75.4 101.1,75.4 101.45,75.4 101.8,75.4 102.15,75.4 102.51,75.4 102.86,75.4 103.21,75.4 103.56,75.4 103.91,75.4 104.27,75.4 104.62,75.4 104.97,75.4 105.32,75.4 105.68,75.4 106.03,75.4 106.38,75.4 106.73,75.4 107.08,75.39 107.44,75.39 107.79,75.39 108.14,75.38 108.49,75.38 108.85,75.37 109.2,75.36 109.55,75.35 109.9,75.34 110.25,75.32 110.61,75.31 110.96,75.29 111.31,75.27 111.66,75.24 112.02,75.22 112.37,75.2 112.72,75.17 113.07,75.15 113.42,75.13 113.78,75.11 114.13,75.1 114.48,75.09 114.83,75.08 115.19,75.08 115.54,75.08 115.89,75.08 116.24,75.1 116.59,75.11 116.95,75.13 117.3,75.15 117.65,75.17 118,75.19 118.36,75.22 118.71,75.24 119.06,75.26 119.41,75.28 119.76,75.3 120.12,75.32 120.47,75.34 120.82,75.35 121.17,75.36 121.53,75.37 121.88,75.38 122.23,75.38 122.58,75.39 122.93,75.39 123.29,75.39 123.64,75.39 123.99,75.4"/><rect class="a" x="35.6" y="5.2" width="92.8" height="70.2"/><path class="a tk" d="M48.6 75.4v2.5M81.9 75.4v2.5M115.2 75.4v2.5M35.6 75.4h-2.5M35.6 61.1h-2.5M35.6 46.8h-2.5M35.6 32.5h-2.5M35.6 18.2h-2.5"/><text class="m" x="48.6" y="84.15">0</text><text class="m" x="81.9" y="84.15">1</text><text class="m" x="115.2" y="84.15">2</text><text class="e" x="30.7" y="78.15">0</text><text class="e" x="30.7" y="63.85">2</text><text class="e" x="30.7" y="49.55">4</text><text class="e" x="30.7" y="35.25">6</text><text class="e" x="30.7" y="20.95">8</text><text class="m l" x="82" y="92.6">bacteria</text><text class="m l" transform="translate(23.3,41.7) rotate(-90)">Density</text></g>
<g transform="translate(548,97)"><path class="b" d="M49.84 75.4H52.23V74.32H49.84ZM52.23 75.4H54.62V73.79H52.23ZM54.62 75.4H57.01V66.9H54.62ZM57.01 75.4H59.4V30.75H57.01ZM59.4 75.4H61.79V8.42H59.4ZM61.79 75.4H64.19V19.99H61.79ZM64.19 75.4H66.58V39.19H64.19ZM66.58 75.4H68.97V60.87H66.58ZM68.97 75.4H71.36V66.25H68.97ZM71.36 75.4H73.75V71.63H71.36ZM73.75 75.4H76.14V60.01H73.75ZM76.14 75.4H78.53V66.25H76.14ZM78.53 75.4H80.93V65.18H78.53ZM80.93 75.4H83.32V69.21H80.93ZM83.32 75.4H85.71V73.25H83.32ZM85.71 75.4H88.1V66.9H85.71ZM88.1 75.4H90.49V72.17H88.1ZM90.49 75.4H92.88V73.79H90.49ZM92.88 75.4H95.28V73.79H92.88ZM95.28 75.4H97.67V73.79H95.28ZM97.67 75.4H100.06V74.32H97.67ZM100.06 75.4H102.45V73.79H100.06ZM102.45 75.4H104.84V73.79H102.45ZM104.84 75.4H107.23V71.9H104.84ZM107.23 75.4H109.62V73.79H107.23ZM109.62 75.4H112.02V74.32H109.62ZM112.02 75.4H114.41V74.32H112.02Z"/><polyline class="k" points="39.21,75.4 39.57,75.4 39.93,75.4 40.28,75.4 40.64,75.4 41,75.4 41.36,75.4 41.72,75.39 42.07,75.39 42.43,75.39 42.79,75.38 43.15,75.38 43.51,75.37 43.86,75.36 44.22,75.35 44.58,75.33 44.94,75.32 45.3,75.29 45.65,75.26 46.01,75.23 46.37,75.18 46.73,75.13 47.09,75.06 47.44,74.98 47.8,74.88 48.16,74.76 48.52,74.62 48.88,74.44 49.23,74.23 49.59,73.98 49.95,73.67 50.31,73.31 50.67,72.88 51.02,72.37 51.38,71.77 51.74,71.07 52.1,70.25 52.46,69.31 52.81,68.24 53.17,67.02 53.53,65.66 53.89,64.14 54.25,62.46 54.6,60.63 54.96,58.65 55.32,56.54 55.68,54.31 56.04,51.97 56.39,49.56 56.75,47.1 57.11,44.63 57.47,42.17 57.83,39.76 58.18,37.44 58.54,35.25 58.9,33.21 59.26,31.37 59.62,29.75 59.97,28.37 60.33,27.26 60.69,26.43 61.05,25.88 61.41,25.64 61.76,25.68 62.12,26.01 62.48,26.61 62.84,27.46 63.2,28.56 63.55,29.86 63.91,31.36 64.27,33.01 64.63,34.8 64.99,36.69 65.34,38.66 65.7,40.67 66.06,42.69 66.42,44.72 66.78,46.71 67.13,48.65 67.49,50.52 67.85,52.3 68.21,53.98 68.57,55.55 68.92,57 69.28,58.32 69.64,59.51 70,60.57 70.36,61.49 70.71,62.29 71.07,62.96 71.43,63.52 71.79,63.97 72.15,64.32 72.5,64.58 72.86,64.77 73.22,64.89 73.58,64.97 73.94,65 74.29,65.01 74.65,65 75.01,64.98 75.37,64.97 75.73,64.97 76.08,64.98 76.44,65.02 76.8,65.08 77.16,65.17 77.52,65.28 77.87,65.43 78.23,65.59 78.59,65.79 78.95,66 79.31,66.23 79.66,66.48 80.02,66.74 80.38,67.01 80.74,67.28 81.1,67.55 81.45,67.82 81.81,68.08 82.17,68.33 82.53,68.57 82.88,68.79 83.24,69 83.6,69.18 83.96,69.35 84.32,69.51 84.67,69.65 85.03,69.78 85.39,69.9 85.75,70.02 86.11,70.13 86.46,70.24 86.82,70.36 87.18,70.49 87.54,70.62 87.9,70.77 88.25,70.92 88.61,71.08 88.97,71.26 89.33,71.44 89.69,71.62 90.04,71.81 90.4,71.99 90.76,72.18 91.12,72.35 91.48,72.52 91.83,72.68 92.19,72.83 92.55,72.97 92.91,73.1 93.27,73.21 93.62,73.31 93.98,73.41 94.34,73.48 94.7,73.55 95.06,73.61 95.41,73.66 95.77,73.71 96.13,73.74 96.49,73.77 96.85,73.8 97.2,73.82 97.56,73.83 97.92,73.84 98.28,73.84 98.64,73.84 98.99,73.83 99.35,73.81 99.71,73.79 100.07,73.77 100.43,73.74 100.78,73.71 101.14,73.67 101.5,73.63 101.86,73.59 102.22,73.54 102.57,73.49 102.93,73.45 103.29,73.4 103.65,73.36 104.01,73.32 104.36,73.29 104.72,73.26 105.08,73.25 105.44,73.24 105.8,73.24 106.15,73.25 106.51,73.26 106.87,73.29 107.23,73.33 107.59,73.38 107.94,73.43 108.3,73.5 108.66,73.56 109.02,73.64 109.38,73.71 109.73,73.79 110.09,73.87 110.45,73.95 110.81,74.03 111.17,74.11 111.52,74.2 111.88,74.27 112.24,74.35 112.6,74.43 112.96,74.5 113.31,74.58 113.67,74.65 114.03,74.72 114.39,74.78 114.75,74.84 115.1,74.9 115.46,74.96 115.82,75.01 116.18,75.06 116.54,75.11 116.89,75.15 117.25,75.19 117.61,75.22 117.97,75.25 118.33,75.28 118.68,75.3 119.04,75.32 119.4,75.33 119.76,75.35 120.12,75.36 120.47,75.37 120.83,75.38 121.19,75.38 121.55,75.39 121.91,75.39 122.26,75.39 122.62,75.39 122.98,75.4 123.34,75.4 123.7,75.4 124.05,75.4 124.41,75.4 124.77,75.4"/><rect class="a" x="35.6" y="5.2" width="92.8" height="70.2"/><path class="a tk" d="M46.8 75.4v2.5M74.4 75.4v2.5M102 75.4v2.5M35.6 75.4h-2.5M35.6 48.5h-2.5M35.6 21.6h-2.5"/><text class="m" x="46.8" y="84.15">0</text><text class="m" x="74.4" y="84.15">200</text><text class="m" x="102" y="84.15">400</text><text class="e" x="30.7" y="78.15">0.000</text><text class="e" x="30.7" y="51.25">0.005</text><text class="e" x="30.7" y="24.35">0.010</text><text class="m l" x="82" y="92.6">blood_glucose_random</text><text class="m l" transform="translate(10.3,41.7) rotate(-90)">Density</text></g>
<g transform="translate(0,194)"><path class="b" d="M47.86 75.4H49.62V72.05H47.86ZM49.62 75.4H51.37V26.83H49.62ZM51.37 75.4H53.13V8.4H51.37ZM53.13 75.4H54.88V26.49H53.13ZM54.88 75.4H56.64V13.76H54.88ZM56.64 75.4H58.39V57.98H56.64ZM58.39 75.4H60.15V62.34H58.39ZM60.15 75.4H61.9V64.68H60.15ZM61.9 75.4H63.66V61.67H61.9ZM63.66 75.4H65.41V66.02H63.66ZM65.41 75.4H67.17V68.37H65.41ZM67.17 75.4H68.92V69.71H67.17ZM68.92 75.4H70.68V70.71H68.92ZM70.68 75.4H72.43V71.38H70.68ZM72.43 75.4H74.19V71.05H72.43ZM74.19 75.4H75.94V71.05H74.19ZM75.94 75.4H77.7V72.39H75.94ZM77.7 75.4H79.45V73.39H77.7ZM79.45 75.4H81.21V74.06H79.45ZM81.21 75.4H82.96V74.06H81.21ZM82.96 75.4H84.72V73.73H82.96ZM84.72 75.4H86.47V73.73H84.72ZM86.47 75.4H88.23V74.4H86.47ZM88.23 75.4H89.98V74.73H88.23ZM89.98 75.4H91.74V75.07H89.98ZM91.74 75.4H93.49V75.07H91.74ZM93.49 75.4H95.25V75.07H93.49ZM95.25 75.4H97V75.07H95.25ZM97 75.4H98.76V74.73H97ZM98.76 75.4H100.51V74.73H98.76ZM100.51 75.4H102.27V74.73H100.51ZM102.27 75.4H104.02V75.07H102.27ZM104.02 75.4H105.78V75.07H104.02ZM105.78 75.4H107.53V75.07H105.78ZM107.53 75.4H109.29V75.07H107.53ZM109.29 75.4H111.04V75.07H109.29ZM111.04 75.4H112.8V75.07H111.04ZM112.8 75.4H114.55V74.73H112.8ZM114.55 75.4H116.31V74.73H114.55Z"/><polyline class="k" points="39.18,75.09 39.53,75.05 39.89,75 40.25,74.94 40.61,74.87 40.97,74.79 41.33,74.7 41.68,74.6 42.04,74.47 42.4,74.31 42.76,74.11 43.12,73.84 43.48,73.49 43.83,73.04 44.19,72.5 44.55,71.83 44.91,71.02 45.27,70.04 45.63,68.85 45.98,67.42 46.34,65.71 46.7,63.72 47.06,61.46 47.42,58.97 47.78,56.29 48.13,53.48 48.49,50.6 48.85,47.7 49.21,44.83 49.57,42.02 49.93,39.33 50.28,36.79 50.64,34.46 51,32.39 51.36,30.62 51.72,29.18 52.08,28.08 52.43,27.3 52.79,26.8 53.15,26.53 53.51,26.44 53.87,26.53 54.23,26.83 54.58,27.39 54.94,28.27 55.3,29.54 55.66,31.19 56.02,33.19 56.38,35.47 56.73,37.95 57.09,40.55 57.45,43.19 57.81,45.82 58.17,48.37 58.53,50.77 58.88,52.96 59.24,54.88 59.6,56.52 59.96,57.87 60.32,58.95 60.68,59.82 61.03,60.5 61.39,61.05 61.75,61.49 62.11,61.85 62.47,62.17 62.83,62.45 63.18,62.76 63.54,63.11 63.9,63.52 64.26,64.01 64.62,64.55 64.98,65.13 65.34,65.72 65.69,66.27 66.05,66.78 66.41,67.25 66.77,67.67 67.13,68.05 67.49,68.39 67.84,68.7 68.2,68.98 68.56,69.23 68.92,69.45 69.28,69.65 69.64,69.82 69.99,69.98 70.35,70.11 70.71,70.22 71.07,70.29 71.43,70.34 71.79,70.37 72.14,70.38 72.5,70.39 72.86,70.39 73.22,70.4 73.58,70.41 73.94,70.43 74.29,70.47 74.65,70.55 75.01,70.67 75.37,70.83 75.73,71.04 76.09,71.26 76.44,71.49 76.8,71.71 77.16,71.91 77.52,72.09 77.88,72.27 78.24,72.44 78.59,72.63 78.95,72.81 79.31,73 79.67,73.17 80.03,73.32 80.39,73.43 80.74,73.5 81.1,73.54 81.46,73.55 81.82,73.54 82.18,73.52 82.54,73.49 82.89,73.46 83.25,73.42 83.61,73.39 83.97,73.36 84.33,73.32 84.69,73.29 85.04,73.26 85.4,73.24 85.76,73.24 86.12,73.26 86.48,73.3 86.84,73.37 87.19,73.47 87.55,73.59 87.91,73.72 88.27,73.86 88.63,73.99 88.99,74.12 89.34,74.24 89.7,74.34 90.06,74.41 90.42,74.47 90.78,74.51 91.14,74.54 91.49,74.56 91.85,74.59 92.21,74.61 92.57,74.64 92.93,74.66 93.29,74.68 93.64,74.7 94,74.72 94.36,74.73 94.72,74.75 95.08,74.76 95.44,74.77 95.79,74.78 96.15,74.78 96.51,74.78 96.87,74.78 97.23,74.78 97.59,74.78 97.94,74.77 98.3,74.77 98.66,74.76 99.02,74.75 99.38,74.74 99.74,74.73 100.09,74.72 100.45,74.71 100.81,74.7 101.17,74.69 101.53,74.68 101.89,74.67 102.24,74.66 102.6,74.65 102.96,74.64 103.32,74.64 103.68,74.63 104.04,74.63 104.39,74.63 104.75,74.63 105.11,74.63 105.47,74.64 105.83,74.64 106.19,74.65 106.54,74.66 106.9,74.67 107.26,74.68 107.62,74.69 107.98,74.7 108.34,74.71 108.69,74.72 109.05,74.73 109.41,74.74 109.77,74.75 110.13,74.76 110.49,74.77 110.84,74.77 111.2,74.78 111.56,74.78 111.92,74.78 112.28,74.78 112.64,74.77 112.99,74.75 113.35,74.72 113.71,74.69 114.07,74.66 114.43,74.62 114.79,74.59 115.14,74.55 115.5,74.52 115.86,74.5 116.22,74.48 116.58,74.48 116.94,74.48 117.29,74.48 117.65,74.5 118.01,74.51 118.37,74.54 118.73,74.56 119.09,74.59 119.44,74.62 119.8,74.65 120.16,74.68 120.52,74.71 120.88,74.75 121.24,74.78 121.59,74.82 121.95,74.85 122.31,74.89 122.67,74.94 123.03,74.99 123.39,75.04 123.74,75.1 124.1,75.16 124.46,75.21 124.82,75.26"/><rect class="a" x="35.6" y="5.2" width="92.8" height="70.2"/><path class="a tk" d="M47.6 75.4v2.5M82.7 75.4v2.5M117.8 75.4v2.5M35.6 75.4h-2.5M35.6 58.65h-2.5M35.6 41.9h-2.5M35.6 25.15h-2.5M35.6 8.4h-2.5"/><text class="m" x="47.6" y="84.15">0</text><text class="m" x="82.7" y="84.15">200</text><text class="m" x="117.8" y="84.15">400</text><text class="e" x="30.7" y="78.15">0.000</text><text class="e" x="30.7" y="61.4">0.005</text><text class="e" x="30.7" y="44.65">0.010</text><text class="e" x="30.7" y="27.9">0.015</text><text class="e" x="30.7" y="11.15">0.020</text><text class="m l" x="82" y="92.6">blood_urea</text><text class="m l" transform="translate(10.3,41.7) rotate(-90)">Density</text></g>
<g transform="translate(137,194)"><path class="b" d="M45.79 75.4H47.04V48.37H45.79ZM47.04 75.4H48.28V65.38H47.04ZM48.28 75.4H49.53V69.2H48.28ZM49.53 75.4H50.77V71.58H49.53ZM50.77 75.4H52.01V72.86H50.77ZM52.01 75.4H53.26V73.49H52.01ZM53.26 75.4H54.5V73.81H53.26ZM54.5 75.4H55.75V74.13H54.5ZM55.75 75.4H56.99V74.45H55.75ZM56.99 75.4H58.23V74.61H56.99ZM58.23 75.4H59.48V74.76H58.23ZM59.48 75.4H60.72V74.92H59.48ZM60.72 75.4H61.97V75.08H60.72ZM61.97 75.4H63.21V75.08H61.97ZM63.21 75.4H64.46V75.24H63.21ZM68.1 75.4H69.38V75.24H68.1ZM76 75.4H77.28V75.24H76ZM91.8 75.4H93.08V75.24H91.8ZM118.17 75.4H119.45V75.24H118.17Z"/><path class="b t" d="M44.55 75.4H45.79V8.46H44.55Z"/><polyline class="k" points="39.46,75.06 39.82,74.83 40.17,74.49 40.53,74 40.88,73.29 41.24,72.33 41.59,71.07 41.95,69.46 42.31,67.5 42.66,65.2 43.02,62.61 43.37,59.83 43.73,56.99 44.08,54.24 44.44,51.75 44.79,49.69 45.15,48.21 45.5,47.38 45.86,47.26 46.21,47.82 46.57,49.01 46.92,50.69 47.28,52.75 47.64,55.01 47.99,57.36 48.35,59.66 48.7,61.82 49.06,63.79 49.41,65.52 49.77,67.01 50.12,68.26 50.48,69.31 50.83,70.16 51.19,70.87 51.54,71.44 51.9,71.9 52.25,72.29 52.61,72.6 52.97,72.87 53.32,73.09 53.68,73.28 54.03,73.45 54.39,73.59 54.74,73.72 55.1,73.84 55.45,73.94 55.81,74.04 56.16,74.13 56.52,74.21 56.87,74.29 57.23,74.36 57.58,74.43 57.94,74.49 58.3,74.55 58.65,74.61 59.01,74.66 59.36,74.72 59.72,74.76 60.07,74.81 60.43,74.85 60.78,74.9 61.14,74.94 61.49,74.98 61.85,75.01 62.2,75.05 62.56,75.08 62.91,75.12 63.27,75.15 63.63,75.18 63.98,75.21 64.34,75.24 64.69,75.26 65.05,75.29 65.4,75.3 65.76,75.32 66.11,75.33 66.47,75.34 66.82,75.34 67.18,75.35 67.53,75.35 67.89,75.35 68.24,75.35 68.6,75.35 68.96,75.35 69.31,75.35 69.67,75.36 70.02,75.36 70.38,75.37 70.73,75.37 71.09,75.38 71.44,75.38 71.8,75.38 72.15,75.39 72.51,75.39 72.86,75.39 73.22,75.39 73.57,75.38 73.93,75.38 74.29,75.38 74.64,75.37 75,75.37 75.35,75.36 75.71,75.36 76.06,75.35 76.42,75.35 76.77,75.35 77.13,75.35 77.48,75.36 77.84,75.36 78.19,75.37 78.55,75.37 78.9,75.38 79.26,75.38 79.62,75.38 79.97,75.39 80.33,75.39 80.68,75.39 81.04,75.4 81.39,75.4 81.75,75.4 82.1,75.4 82.46,75.4 82.81,75.4 83.17,75.4 83.52,75.4 83.88,75.4 84.23,75.4 84.59,75.4 84.95,75.4 85.3,75.4 85.66,75.4 86.01,75.4 86.37,75.4 86.72,75.4 87.08,75.4 87.43,75.4 87.79,75.4 88.14,75.4 88.5,75.39 88.85,75.39 89.21,75.39 89.56,75.38 89.92,75.38 90.28,75.37 90.63,75.37 90.99,75.36 91.34,75.36 91.7,75.36 92.05,75.35 92.41,75.35 92.76,75.35 93.12,75.36 93.47,75.36 93.83,75.36 94.18,75.37 94.54,75.37 94.89,75.38 95.25,75.38 95.61,75.39 95.96,75.39 96.32,75.39 96.67,75.39 97.03,75.4 97.38,75.4 97.74,75.4 98.09,75.4 98.45,75.4 98.8,75.4 99.16,75.4 99.51,75.4 99.87,75.4 100.22,75.4 100.58,75.4 100.94,75.4 101.29,75.4 101.65,75.4 102,75.4 102.36,75.4 102.71,75.4 103.07,75.4 103.42,75.4 103.78,75.4 104.13,75.4 104.49,75.4 104.84,75.4 105.2,75.4 105.55,75.4 105.91,75.4 106.27,75.4 106.62,75.4 106.98,75.4 107.33,75.4 107.69,75.4 108.04,75.4 108.4,75.4 108.75,75.4 109.11,75.4 109.46,75.4 109.82,75.4 110.17,75.4 110.53,75.4 110.88,75.4 111.24,75.4 111.6,75.4 111.95,75.4 112.31,75.4 112.66,75.4 113.02,75.4 113.37,75.4 113.73,75.4 114.08,75.4 114.44,75.4 114.79,75.39 115.15,75.39 115.5,75.39 115.86,75.38 116.21,75.38 116.57,75.37 116.93,75.37 117.28,75.36 117.64,75.36 117.99,75.36 118.35,75.35 118.7,75.35 119.06,75.35 119.41,75.36 119.77,75.36 120.12,75.36 120.48,75.37 120.83,75.37 121.19,75.38 121.54,75.38 121.9,75.39 122.26,75.39 122.61,75.39 122.97,75.39 123.32,75.4 123.68,75.4 124.03,75.4 124.39,75.4"/><rect class="a" x="35.6" y="5.2" width="92.8" height="70.2"/><path class="a tk" d="M44.4 75.4v2.5M64.15 75.4v2.5M83.9 75.4v2.5M103.65 75.4v2.5M123.4 75.4v2.5M35.6 75.4h-2.5M35.6 59.5h-2.5M35.6 43.6h-2.5M35.6 27.7h-2.5M35.6 11.8h-2.5"/><text class="m" x="44.4" y="84.15">0</text><text class="m" x="64.15" y="84.15">20</text><text class="m" x="83.9" y="84.15">40</text><text class="m" x="103.65" y="84.15">60</text><text class="m" x="123.4" y="84.15">80</text><text class="e" x="30.7" y="78.15">0.0</text><text class="e" x="30.7" y="62.25">0.1</text><text class="e" x="30.7" y="46.35">0.2</text><text class="e" x="30.7" y="30.45">0.3</text><text class="e" x="30.7" y="14.55">0.4</text><text class="m l" x="82" y="92.6">serum_creatinine</text><text class="m l" transform="translate(17.3,41.7) rotate(-90)">Density</text></g>
<g transform="translate(274,194)"><path class="b" d="M44.14 75.4H45.51V74.7H44.14ZM90.89 75.4H92.32V74.7H90.89ZM92.32 75.4H93.74V74.53H92.32ZM93.74 75.4H95.17V74.53H93.74ZM95.17 75.4H96.59V70.78H95.17ZM96.59 75.4H98.01V73.66H96.59ZM98.01 75.4H99.44V73.66H98.01ZM99.44 75.4H100.86V71.91H99.44ZM100.86 75.4H102.29V70.17H100.86ZM102.29 75.4H103.71V64.93H102.29ZM103.71 75.4H105.14V49.23H103.71ZM105.14 75.4H106.51V38.76H105.14ZM106.51 75.4H107.89V8.39H106.51ZM107.89 75.4H109.26V16.94H107.89ZM109.26 75.4H110.64V27.41H109.26ZM110.64 75.4H112.02V32.65H110.64ZM112.02 75.4H113.39V37.88H112.02ZM113.39 75.4H114.77V73.66H113.39ZM117.95 75.4H119.38V74.53H117.95Z"/><polyline class="k" points="38.2,75.4 38.57,75.4 38.93,75.4 39.29,75.39 39.66,75.38 40.02,75.37 40.38,75.35 40.75,75.33 41.11,75.29 41.47,75.23 41.84,75.17 42.2,75.1 42.56,75.02 42.93,74.94 43.29,74.88 43.65,74.83 44.02,74.8 44.38,74.81 44.74,74.84 45.11,74.9 45.47,74.97 45.84,75.05 46.2,75.12 46.56,75.19 46.93,75.25 47.29,75.3 47.65,75.34 48.02,75.36 48.38,75.38 48.74,75.39 49.11,75.39 49.47,75.4 49.83,75.4 50.2,75.4 50.56,75.4 50.92,75.4 51.29,75.4 51.65,75.4 52.01,75.4 52.38,75.4 52.74,75.4 53.1,75.4 53.47,75.4 53.83,75.4 54.2,75.4 54.56,75.4 54.92,75.4 55.29,75.4 55.65,75.4 56.01,75.4 56.38,75.4 56.74,75.4 57.1,75.4 57.47,75.4 57.83,75.4 58.19,75.4 58.56,75.4 58.92,75.4 59.28,75.4 59.65,75.4 60.01,75.4 60.37,75.4 60.74,75.4 61.1,75.4 61.46,75.4 61.83,75.4 62.19,75.4 62.56,75.4 62.92,75.4 63.28,75.4 63.65,75.4 64.01,75.4 64.37,75.4 64.74,75.4 65.1,75.4 65.46,75.4 65.83,75.4 66.19,75.4 66.55,75.4 66.92,75.4 67.28,75.4 67.64,75.4 68.01,75.4 68.37,75.4 68.73,75.4 69.1,75.4 69.46,75.4 69.82,75.4 70.19,75.4 70.55,75.4 70.91,75.4 71.28,75.4 71.64,75.4 72.01,75.4 72.37,75.4 72.73,75.4 73.1,75.4 73.46,75.4 73.82,75.4 74.19,75.4 74.55,75.4 74.91,75.4 75.28,75.4 75.64,75.4 76,75.4 76.37,75.4 76.73,75.4 77.09,75.4 77.46,75.4 77.82,75.4 78.18,75.4 78.55,75.4 78.91,75.4 79.27,75.4 79.64,75.4 80,75.4 80.37,75.4 80.73,75.4 81.09,75.4 81.46,75.4 81.82,75.4 82.18,75.4 82.55,75.4 82.91,75.4 83.27,75.4 83.64,75.4 84,75.4 84.36,75.4 84.73,75.39 85.09,75.38 85.45,75.37 85.82,75.35 86.18,75.32 86.54,75.28 86.91,75.23 87.27,75.17 87.63,75.1 88,75.01 88.36,74.93 88.73,74.85 89.09,74.78 89.45,74.72 89.82,74.67 90.18,74.62 90.54,74.57 90.91,74.53 91.27,74.47 91.63,74.41 92,74.34 92.36,74.27 92.72,74.2 93.09,74.13 93.45,74.05 93.81,73.97 94.18,73.89 94.54,73.8 94.9,73.7 95.27,73.6 95.63,73.48 95.99,73.35 96.36,73.22 96.72,73.07 97.09,72.91 97.45,72.72 97.81,72.51 98.18,72.27 98.54,72 98.9,71.69 99.27,71.34 99.63,70.93 99.99,70.43 100.36,69.82 100.72,69.06 101.08,68.12 101.45,67 101.81,65.68 102.17,64.17 102.54,62.45 102.9,60.5 103.26,58.26 103.63,55.66 103.99,52.64 104.35,49.17 104.72,45.31 105.08,41.17 105.44,36.94 105.81,32.89 106.17,29.25 106.54,26.27 106.9,24.12 107.26,22.89 107.63,22.63 107.99,23.28 108.35,24.74 108.72,26.85 109.08,29.42 109.44,32.26 109.81,35.2 110.17,38.16 110.53,41.1 110.9,44.06 111.26,47.09 111.62,50.26 111.99,53.56 112.35,56.92 112.71,60.24 113.08,63.35 113.44,66.12 113.8,68.46 114.17,70.31 114.53,71.7 114.9,72.67 115.26,73.33 115.62,73.75 115.99,74.03 116.35,74.22 116.71,74.36 117.08,74.48 117.44,74.58 117.8,74.66 118.17,74.73 118.53,74.77 118.89,74.81 119.26,74.83 119.62,74.86 119.98,74.89 120.35,74.93 120.71,74.98 121.07,75.04 121.44,75.1 121.8,75.17 122.16,75.22 122.53,75.27 122.89,75.31 123.26,75.34 123.62,75.36 123.98,75.38 124.35,75.39 124.71,75.39 125.07,75.4"/><rect class="a" x="35.6" y="5.2" width="92.8" height="70.2"/><path class="a tk" d="M42 75.4v2.5M65.73 75.4v2.5M89.47 75.4v2.5M113.2 75.4v2.5M35.6 75.4h-2.5M35.6 57.95h-2.5M35.6 40.5h-2.5M35.6 23.05h-2.5M35.6 5.6h-2.5"/><text class="m" x="42" y="84.15">0</text><text class="m" x="65.73" y="84.15">50</text><text class="m" x="89.47" y="84.15">100</text><text class="m" x="113.2" y="84.15">150</text><text class="e" x="30.7" y="78.15">0.00</text><text class="e" x="30.7" y="60.7">0.02</text><text class="e" x="30.7" y="43.25">0.04</text><text class="e" x="30.7" y="25.8">0.06</text><text class="e" x="30.7" y="8.35">0.08</text><text class="m l" x="82" y="92.6">sodium</text><text class="m l" transform="translate(14.3,41.7) rotate(-90)">Density</text></g>
<g transform="translate(411,194)"><path class="b" d="M44.41 75.4H44.82V72.68H44.41ZM44.82 75.4H46.27V53.64H44.82ZM46.27 75.4H47.7V13.79H46.27ZM47.7 75.4H49.13V8.35H47.7ZM49.13 75.4H50.56V48.2H49.13ZM50.56 75.4H52V72.68H50.56ZM105.07 75.4H106.76V74.99H105.07ZM117.71 75.4H119.4V74.99H117.71Z"/><polyline class="k" points="38.52,75.4 38.88,75.4 39.24,75.39 39.6,75.39 39.97,75.37 40.33,75.34 40.69,75.29 41.06,75.2 41.42,75.05 41.78,74.8 42.15,74.39 42.51,73.78 42.87,72.87 43.24,71.58 43.6,69.82 43.96,67.49 44.32,64.56 44.69,61 45.05,56.89 45.41,52.35 45.78,47.62 46.14,42.98 46.5,38.76 46.87,35.31 47.23,32.92 47.59,31.81 47.96,32.1 48.32,33.74 48.68,36.58 49.04,40.36 49.41,44.77 49.77,49.45 50.13,54.09 50.5,58.43 50.86,62.27 51.22,65.52 51.59,68.16 51.95,70.2 52.31,71.73 52.68,72.84 53.04,73.62 53.4,74.15 53.76,74.51 54.13,74.75 54.49,74.92 54.85,75.04 55.22,75.13 55.58,75.2 55.94,75.25 56.31,75.29 56.67,75.32 57.03,75.35 57.4,75.36 57.76,75.38 58.12,75.39 58.48,75.39 58.85,75.39 59.21,75.4 59.57,75.4 59.94,75.4 60.3,75.4 60.66,75.4 61.03,75.4 61.39,75.4 61.75,75.4 62.12,75.4 62.48,75.4 62.84,75.4 63.2,75.4 63.57,75.4 63.93,75.4 64.29,75.4 64.66,75.4 65.02,75.4 65.38,75.4 65.75,75.4 66.11,75.4 66.47,75.4 66.84,75.4 67.2,75.4 67.56,75.4 67.92,75.4 68.29,75.4 68.65,75.4 69.01,75.4 69.38,75.4 69.74,75.4 70.1,75.4 70.47,75.4 70.83,75.4 71.19,75.4 71.56,75.4 71.92,75.4 72.28,75.4 72.65,75.4 73.01,75.4 73.37,75.4 73.73,75.4 74.1,75.4 74.46,75.4 74.82,75.4 75.19,75.4 75.55,75.4 75.91,75.4 76.28,75.4 76.64,75.4 77,75.4 77.37,75.4 77.73,75.4 78.09,75.4 78.45,75.4 78.82,75.4 79.18,75.4 79.54,75.4 79.91,75.4 80.27,75.4 80.63,75.4 81,75.4 81.36,75.4 81.72,75.4 82.09,75.4 82.45,75.4 82.81,75.4 83.17,75.4 83.54,75.4 83.9,75.4 84.26,75.4 84.63,75.4 84.99,75.4 85.35,75.4 85.72,75.4 86.08,75.4 86.44,75.4 86.81,75.4 87.17,75.4 87.53,75.4 87.89,75.4 88.26,75.4 88.62,75.4 88.98,75.4 89.35,75.4 89.71,75.4 90.07,75.4 90.44,75.4 90.8,75.4 91.16,75.4 91.53,75.4 91.89,75.4 92.25,75.4 92.61,75.4 92.98,75.4 93.34,75.4 93.7,75.4 94.07,75.4 94.43,75.4 94.79,75.4 95.16,75.4 95.52,75.4 95.88,75.4 96.25,75.4 96.61,75.4 96.97,75.4 97.33,75.4 97.7,75.4 98.06,75.4 98.42,75.4 98.79,75.4 99.15,75.4 99.51,75.4 99.88,75.4 100.24,75.4 100.6,75.4 100.97,75.39 101.33,75.39 101.69,75.38 102.06,75.38 102.42,75.37 102.78,75.36 103.14,75.35 103.51,75.33 103.87,75.32 104.23,75.3 104.6,75.29 104.96,75.28 105.32,75.27 105.69,75.27 106.05,75.26 106.41,75.27 106.78,75.28 107.14,75.29 107.5,75.3 107.86,75.31 108.23,75.33 108.59,75.34 108.95,75.36 109.32,75.37 109.68,75.38 110.04,75.38 110.41,75.39 110.77,75.39 111.13,75.4 111.5,75.4 111.86,75.4 112.22,75.4 112.58,75.4 112.95,75.4 113.31,75.4 113.67,75.4 114.04,75.4 114.4,75.39 114.76,75.39 115.13,75.39 115.49,75.38 115.85,75.37 116.22,75.36 116.58,75.35 116.94,75.34 117.3,75.32 117.67,75.31 118.03,75.29 118.39,75.28 118.76,75.27 119.12,75.27 119.48,75.26 119.85,75.27 120.21,75.27 120.57,75.29 120.94,75.3 121.3,75.31 121.66,75.33 122.02,75.34 122.39,75.35 122.75,75.37 123.11,75.38 123.48,75.38 123.84,75.39 124.2,75.39 124.57,75.39 124.93,75.4 125.29,75.4"/><rect class="a" x="35.6" y="5.2" width="92.8" height="70.2"/><path class="a tk" d="M40.2 75.4v2.5M73.9 75.4v2.5M107.6 75.4v2.5M35.6 75.4h-2.5M35.6 48.2h-2.5M35.6 21h-2.5"/><text class="m" x="40.2" y="84.15">0</text><text class="m" x="73.9" y="84.15">20</text><text class="m" x="107.6" y="84.15">40</text><text class="e" x="30.7" y="78.15">0.0</text><text class="e" x="30.7" y="50.95">0.2</text><text class="e" x="30.7" y="23.75">0.4</text><text class="m l" x="82" y="92.6">potassium</text><text class="m l" transform="translate(17.3,41.7) rotate(-90)">Density</text></g>
<g transform="translate(548,194)"><path class="b" d="M51.14 75.4H56.81V74.4H51.14ZM56.81 75.4H62.47V71.02H56.81ZM62.47 75.4H68.14V65.94H62.47ZM68.14 75.4H73.8V54.98H68.14ZM73.8 75.4H79.47V43.03H73.8ZM79.47 75.4H85.13V16.14H79.47ZM85.13 75.4H90.8V25.1H85.13ZM90.8 75.4H96.46V24.11H90.8ZM96.46 75.4H102.13V8.42H96.46ZM102.13 75.4H107.79V29.09H102.13ZM107.79 75.4H113.46V45.52H107.79Z"/><polyline class="k" points="39.27,75.06 39.63,75.03 39.99,75 40.35,74.97 40.71,74.94 41.07,74.91 41.43,74.88 41.79,74.85 42.15,74.81 42.51,74.78 42.87,74.75 43.23,74.72 43.59,74.69 43.95,74.65 44.31,74.62 44.67,74.59 45.03,74.56 45.39,74.53 45.75,74.49 46.11,74.46 46.47,74.43 46.83,74.4 47.19,74.36 47.56,74.33 47.92,74.3 48.28,74.27 48.64,74.23 49,74.19 49.36,74.15 49.72,74.11 50.08,74.06 50.44,74.01 50.8,73.96 51.16,73.91 51.52,73.85 51.88,73.8 52.24,73.74 52.6,73.68 52.96,73.62 53.32,73.55 53.68,73.47 54.04,73.39 54.4,73.29 54.76,73.18 55.12,73.05 55.48,72.9 55.84,72.73 56.2,72.54 56.56,72.34 56.92,72.11 57.28,71.87 57.64,71.6 58,71.33 58.36,71.04 58.72,70.74 59.08,70.43 59.44,70.11 59.8,69.78 60.16,69.45 60.52,69.12 60.88,68.78 61.24,68.44 61.6,68.1 61.96,67.75 62.32,67.39 62.68,67.03 63.04,66.66 63.4,66.29 63.76,65.92 64.12,65.55 64.48,65.19 64.84,64.82 65.2,64.45 65.56,64.07 65.92,63.68 66.28,63.26 66.64,62.81 67,62.31 67.36,61.77 67.72,61.16 68.08,60.5 68.44,59.78 68.8,59 69.16,58.17 69.52,57.3 69.88,56.39 70.24,55.46 70.6,54.5 70.96,53.53 71.32,52.54 71.68,51.54 72.04,50.54 72.4,49.51 72.76,48.47 73.12,47.41 73.48,46.32 73.84,45.21 74.2,44.06 74.57,42.9 74.93,41.71 75.29,40.5 75.65,39.28 76.01,38.06 76.37,36.84 76.73,35.65 77.09,34.48 77.45,33.35 77.81,32.26 78.17,31.21 78.53,30.21 78.89,29.26 79.25,28.36 79.61,27.5 79.97,26.68 80.33,25.91 80.69,25.18 81.05,24.5 81.41,23.87 81.77,23.3 82.13,22.79 82.49,22.36 82.85,21.99 83.21,21.69 83.57,21.46 83.93,21.31 84.29,21.21 84.65,21.18 85.01,21.2 85.37,21.28 85.73,21.39 86.09,21.55 86.45,21.73 86.81,21.93 87.17,22.14 87.53,22.35 87.89,22.55 88.25,22.72 88.61,22.87 88.97,22.99 89.33,23.08 89.69,23.14 90.05,23.18 90.41,23.19 90.77,23.17 91.13,23.13 91.49,23.04 91.85,22.91 92.21,22.72 92.57,22.47 92.93,22.16 93.29,21.78 93.65,21.34 94.01,20.86 94.37,20.35 94.73,19.84 95.09,19.33 95.45,18.86 95.81,18.43 96.17,18.05 96.53,17.73 96.89,17.47 97.25,17.26 97.61,17.1 97.97,16.98 98.33,16.9 98.69,16.86 99.05,16.85 99.41,16.9 99.77,17 100.13,17.18 100.49,17.45 100.85,17.82 101.22,18.31 101.58,18.9 101.94,19.6 102.3,20.4 102.66,21.28 103.02,22.24 103.38,23.25 103.74,24.31 104.1,25.41 104.46,26.54 104.82,27.72 105.18,28.94 105.54,30.21 105.9,31.53 106.26,32.9 106.62,34.31 106.98,35.76 107.34,37.24 107.7,38.73 108.06,40.24 108.42,41.76 108.78,43.28 109.14,44.82 109.5,46.37 109.86,47.93 110.22,49.51 110.58,51.11 110.94,52.73 111.3,54.34 111.66,55.94 112.02,57.52 112.38,59.06 112.74,60.54 113.1,61.96 113.46,63.31 113.82,64.58 114.18,65.76 114.54,66.86 114.9,67.87 115.26,68.79 115.62,69.63 115.98,70.38 116.34,71.05 116.7,71.65 117.06,72.17 117.42,72.62 117.78,73.01 118.14,73.35 118.5,73.63 118.86,73.87 119.22,74.07 119.58,74.24 119.94,74.39 120.3,74.51 120.66,74.62 121.02,74.72 121.38,74.8 121.74,74.87 122.1,74.93 122.46,74.99 122.82,75.04 123.18,75.08 123.54,75.12 123.9,75.15 124.26,75.18 124.62,75.21 124.98,75.23 125.34,75.25"/><rect class="a" x="35.6" y="5.2" width="92.8" height="70.2"/><path class="a tk" d="M38 75.4v2.5M59.2 75.4v2.5M80.4 75.4v2.5M101.6 75.4v2.5M122.8 75.4v2.5M35.6 75.4h-2.5M35.6 50.5h-2.5M35.6 25.6h-2.5"/><text class="m" x="38" y="84.15">0</text><text class="m" x="59.2" y="84.15">5</text><text class="m" x="80.4" y="84.15">10</text><text class="m" x="101.6" y="84.15">15</text><text class="m" x="122.8" y="84.15">20</text><text class="e" x="30.7" y="78.15">0.00</text><text class="e" x="30.7" y="53.25">0.05</text><text class="e" x="30.7" y="28.35">0.10</text><text class="m l" x="82" y="92.6">haemoglobin</text><text class="m l" transform="translate(14.3,41.7) rotate(-90)">Density</text></g>
<g transform="translate(0,291)"><path class="b" d="M51.05 75.4H56.23V74.39H51.05ZM56.23 75.4H61.42V72.5H56.23ZM61.42 75.4H66.61V70.04H61.42ZM66.61 75.4H71.79V68.01H66.61ZM71.79 75.4H76.98V52.35H71.79ZM76.98 75.4H82.16V30.45H76.98ZM82.16 75.4H87.35V23.64H82.16ZM87.35 75.4H92.54V42.63H87.35ZM92.54 75.4H97.72V8.41H92.54ZM97.72 75.4H102.91V8.99H97.72ZM102.91 75.4H108.1V30.02H102.91ZM108.1 75.4H113.28V36.4H108.1Z"/><polyline class="k" points="38.6,74.86 38.96,74.84 39.32,74.82 39.68,74.8 40.05,74.79 40.41,74.78 40.77,74.76 41.13,74.74 41.49,74.72 41.85,74.7 42.22,74.68 42.58,74.65 42.94,74.61 43.3,74.58 43.66,74.54 44.02,74.5 44.39,74.45 44.75,74.41 45.11,74.36 45.47,74.31 45.83,74.26 46.19,74.21 46.56,74.16 46.92,74.1 47.28,74.05 47.64,73.99 48,73.94 48.36,73.88 48.73,73.82 49.09,73.76 49.45,73.7 49.81,73.64 50.17,73.58 50.53,73.52 50.9,73.45 51.26,73.38 51.62,73.31 51.98,73.23 52.34,73.14 52.7,73.05 53.07,72.96 53.43,72.86 53.79,72.75 54.15,72.64 54.51,72.53 54.87,72.41 55.24,72.29 55.6,72.17 55.96,72.04 56.32,71.92 56.68,71.79 57.04,71.65 57.41,71.52 57.77,71.38 58.13,71.23 58.49,71.08 58.85,70.93 59.21,70.77 59.58,70.61 59.94,70.44 60.3,70.26 60.66,70.08 61.02,69.89 61.38,69.7 61.75,69.49 62.11,69.28 62.47,69.05 62.83,68.81 63.19,68.56 63.55,68.28 63.92,67.99 64.28,67.67 64.64,67.32 65,66.95 65.36,66.54 65.72,66.1 66.09,65.63 66.45,65.12 66.81,64.58 67.17,63.99 67.53,63.38 67.89,62.72 68.26,62.03 68.62,61.31 68.98,60.55 69.34,59.76 69.7,58.94 70.06,58.09 70.43,57.21 70.79,56.29 71.15,55.34 71.51,54.35 71.87,53.33 72.23,52.28 72.6,51.19 72.96,50.09 73.32,48.96 73.68,47.83 74.04,46.7 74.4,45.59 74.77,44.5 75.13,43.44 75.49,42.43 75.85,41.46 76.21,40.53 76.57,39.66 76.94,38.83 77.3,38.05 77.66,37.31 78.02,36.6 78.38,35.93 78.74,35.29 79.11,34.69 79.47,34.12 79.83,33.59 80.19,33.1 80.55,32.65 80.91,32.24 81.28,31.87 81.64,31.54 82,31.25 82.36,31 82.72,30.78 83.08,30.58 83.45,30.4 83.81,30.24 84.17,30.09 84.53,29.95 84.89,29.81 85.25,29.68 85.62,29.55 85.98,29.41 86.34,29.27 86.7,29.12 87.06,28.95 87.42,28.76 87.79,28.54 88.15,28.28 88.51,27.97 88.87,27.61 89.23,27.17 89.59,26.66 89.96,26.07 90.32,25.4 90.68,24.65 91.04,23.83 91.4,22.95 91.76,22.04 92.13,21.1 92.49,20.16 92.85,19.25 93.21,18.38 93.57,17.56 93.93,16.81 94.3,16.15 94.66,15.56 95.02,15.06 95.38,14.64 95.74,14.31 96.1,14.06 96.47,13.9 96.83,13.83 97.19,13.86 97.55,13.99 97.91,14.25 98.27,14.63 98.64,15.14 99,15.78 99.36,16.53 99.72,17.39 100.08,18.33 100.44,19.32 100.81,20.34 101.17,21.35 101.53,22.34 101.89,23.27 102.25,24.14 102.61,24.94 102.98,25.67 103.34,26.33 103.7,26.94 104.06,27.52 104.42,28.08 104.78,28.64 105.15,29.22 105.51,29.83 105.87,30.47 106.23,31.15 106.59,31.87 106.95,32.62 107.32,33.41 107.68,34.24 108.04,35.1 108.4,36 108.76,36.95 109.12,37.95 109.49,39.01 109.85,40.15 110.21,41.36 110.57,42.66 110.93,44.05 111.29,45.53 111.66,47.08 112.02,48.71 112.38,50.4 112.74,52.13 113.1,53.88 113.46,55.64 113.83,57.38 114.19,59.09 114.55,60.75 114.91,62.33 115.27,63.83 115.63,65.23 116,66.52 116.36,67.7 116.72,68.77 117.08,69.72 117.44,70.56 117.8,71.29 118.17,71.91 118.53,72.45 118.89,72.9 119.25,73.28 119.61,73.6 119.97,73.87 120.34,74.09 120.7,74.27 121.06,74.43 121.42,74.56 121.78,74.67 122.14,74.77 122.51,74.86 122.87,74.94 123.23,75.01 123.59,75.07 123.95,75.12 124.31,75.17 124.68,75.21 125.04,75.24"/><rect class="a" x="35.6" y="5.2" width="92.8" height="70.2"/><path class="a tk" d="M38.6 75.4v2.5M66.26 75.4v2.5M93.92 75.4v2.5M121.58 75.4v2.5M35.6 75.4h-2.5M35.6 60.9h-2.5M35.6 46.4h-2.5M35.6 31.9h-2.5M35.6 17.4h-2.5"/><text class="m" x="38.6" y="84.15">0</text><text class="m" x="66.26" y="84.15">20</text><text class="m" x="93.92" y="84.15">40</text><text class="m" x="121.58" y="84.15">60</text><text class="e" x="30.7" y="78.15">0.00</text><text class="e" x="30.7" y="63.65">0.01</text><text class="e" x="30.7" y="49.15">0.02</text><text class="e" x="30.7" y="34.65">0.03</text><text class="e" x="30.7" y="20.15">0.04</text><text class="m l" x="82" y="92.6">packed_cell_volume</text><text class="m l" transform="translate(14.3,41.7) rotate(-90)">Density</text></g>
<g transform="translate(137,291)"><path class="b" d="M47.24 75.4H49.98V73.99H47.24ZM49.98 75.4H52.72V70.82H49.98ZM52.72 75.4H55.46V47.66H52.72ZM55.46 75.4H58.21V34.92H55.46ZM58.21 75.4H60.95V15.31H58.21ZM60.95 75.4H63.69V26.12H60.95ZM63.69 75.4H66.43V43.72H63.69ZM66.43 75.4H69.17V8.52H66.43ZM69.17 75.4H71.92V33.86H69.17ZM71.92 75.4H74.66V56.04H71.92ZM74.66 75.4H77.4V62.38H74.66ZM77.4 75.4H80.14V70.82H77.4ZM80.14 75.4H82.89V71.53H80.14ZM82.89 75.4H85.63V70.82H82.89ZM85.63 75.4H88.37V73.11H85.63ZM88.37 75.4H91.11V73.99H88.37ZM91.11 75.4H93.86V74.34H91.11ZM93.86 75.4H96.6V73.99H93.86ZM96.6 75.4H99.34V74.7H96.6ZM99.34 75.4H102.08V75.05H99.34ZM102.08 75.4H104.83V75.05H102.08ZM104.83 75.4H107.57V75.05H104.83ZM107.57 75.4H110.31V74.7H107.57ZM110.31 75.4H113.05V75.05H110.31ZM113.05 75.4H115.79V74.7H113.05Z"/><polyline class="k" points="38.85,75.21 39.21,75.19 39.57,75.16 39.93,75.13 40.29,75.09 40.65,75.04 41.01,74.98 41.37,74.91 41.73,74.84 42.09,74.76 42.45,74.68 42.81,74.59 43.17,74.49 43.53,74.39 43.9,74.28 44.26,74.16 44.62,74.03 44.98,73.89 45.34,73.72 45.7,73.53 46.06,73.31 46.42,73.07 46.78,72.79 47.14,72.48 47.5,72.12 47.86,71.71 48.22,71.23 48.58,70.68 48.94,70.03 49.3,69.27 49.66,68.39 50.02,67.39 50.38,66.26 50.74,65.01 51.1,63.64 51.46,62.17 51.82,60.61 52.18,58.97 52.54,57.26 52.9,55.49 53.26,53.68 53.62,51.81 53.98,49.91 54.35,47.98 54.71,46.03 55.07,44.07 55.43,42.1 55.79,40.16 56.15,38.25 56.51,36.4 56.87,34.62 57.23,32.94 57.59,31.38 57.95,29.95 58.31,28.66 58.67,27.51 59.03,26.51 59.39,25.66 59.75,24.94 60.11,24.37 60.47,23.95 60.83,23.68 61.19,23.56 61.55,23.59 61.91,23.75 62.27,24.02 62.63,24.36 62.99,24.75 63.35,25.15 63.71,25.53 64.07,25.89 64.44,26.21 64.8,26.51 65.16,26.78 65.52,27.04 65.88,27.28 66.24,27.51 66.6,27.72 66.96,27.93 67.32,28.13 67.68,28.35 68.04,28.62 68.4,28.97 68.76,29.46 69.12,30.12 69.48,30.98 69.84,32.08 70.2,33.39 70.56,34.92 70.92,36.62 71.28,38.45 71.64,40.36 72,42.3 72.36,44.24 72.72,46.14 73.08,48 73.44,49.79 73.8,51.52 74.16,53.18 74.52,54.76 74.89,56.27 75.25,57.69 75.61,59.03 75.97,60.28 76.33,61.45 76.69,62.55 77.05,63.56 77.41,64.5 77.77,65.37 78.13,66.18 78.49,66.91 78.85,67.57 79.21,68.15 79.57,68.67 79.93,69.13 80.29,69.52 80.65,69.85 81.01,70.14 81.37,70.38 81.73,70.58 82.09,70.76 82.45,70.91 82.81,71.04 83.17,71.16 83.53,71.28 83.89,71.4 84.25,71.52 84.61,71.65 84.97,71.79 85.34,71.92 85.7,72.06 86.06,72.19 86.42,72.31 86.78,72.43 87.14,72.55 87.5,72.66 87.86,72.77 88.22,72.88 88.58,73 88.94,73.12 89.3,73.23 89.66,73.34 90.02,73.45 90.38,73.55 90.74,73.64 91.1,73.71 91.46,73.78 91.82,73.83 92.18,73.87 92.54,73.91 92.9,73.94 93.26,73.97 93.62,73.99 93.98,74.02 94.34,74.04 94.7,74.06 95.06,74.08 95.42,74.1 95.79,74.12 96.15,74.14 96.51,74.16 96.87,74.18 97.23,74.21 97.59,74.23 97.95,74.26 98.31,74.29 98.67,74.32 99.03,74.35 99.39,74.37 99.75,74.4 100.11,74.43 100.47,74.46 100.83,74.48 101.19,74.51 101.55,74.53 101.91,74.55 102.27,74.57 102.63,74.59 102.99,74.6 103.35,74.62 103.71,74.62 104.07,74.63 104.43,74.63 104.79,74.63 105.15,74.63 105.51,74.62 105.88,74.62 106.24,74.62 106.6,74.61 106.96,74.61 107.32,74.6 107.68,74.59 108.04,74.59 108.4,74.58 108.76,74.57 109.12,74.56 109.48,74.56 109.84,74.55 110.2,74.54 110.56,74.53 110.92,74.53 111.28,74.52 111.64,74.51 112,74.51 112.36,74.5 112.72,74.49 113.08,74.49 113.44,74.48 113.8,74.48 114.16,74.48 114.52,74.48 114.88,74.47 115.24,74.47 115.6,74.48 115.96,74.48 116.33,74.49 116.69,74.5 117.05,74.52 117.41,74.53 117.77,74.55 118.13,74.57 118.49,74.6 118.85,74.62 119.21,74.65 119.57,74.68 119.93,74.71 120.29,74.74 120.65,74.78 121.01,74.81 121.37,74.85 121.73,74.88 122.09,74.92 122.45,74.96 122.81,75.01 123.17,75.05 123.53,75.09 123.89,75.13 124.25,75.17 124.61,75.21 124.97,75.25"/><rect class="a" x="35.6" y="5.2" width="92.8" height="70.2"/><path class="a tk" d="M41.4 75.4v2.5M69.73 75.4v2.5M98.06 75.4v2.5M126.39 75.4v2.5M35.6 75.4h-2.5M35.6 57.8h-2.5M35.6 40.2h-2.5M35.6 22.6h-2.5"/><text class="m" x="41.4" y="84.15">0</text><text class="m" x="69.73" y="84.15">10000</text><text class="m" x="98.06" y="84.15">20000</text><text class="m" x="126.39" y="84.15">30000</text><text class="e" x="30.7" y="78.15">0.00000</text><text class="e" x="30.7" y="60.55">0.00005</text><text class="e" x="30.7" y="42.95">0.00010</text><text class="e" x="30.7" y="25.35">0.00015</text><text class="m l" x="82" y="92.6">white_blood_cell_count</text><text class="m l" transform="translate(3.3,41.7) rotate(-90)">Density</text></g>
<g transform="translate(274,291)"><path class="b" d="M50.27 75.4H55.13V67H50.27ZM55.13 75.4H59.99V61H55.13ZM59.99 75.4H64.84V50.44H59.99ZM64.84 75.4H69.7V33H64.84ZM69.7 75.4H74.56V45H69.7ZM74.56 75.4H79.42V8.36H74.56ZM79.42 75.4H84.27V13.64H79.42ZM84.27 75.4H89.13V32.04H84.27ZM89.13 75.4H93.99V40.04H89.13ZM93.99 75.4H98.85V49.96H93.99ZM108.56 75.4H113.42V73.64H108.56Z"/><polyline class="k" points="39.57,75.39 39.92,75.39 40.28,75.38 40.63,75.37 40.98,75.37 41.34,75.35 41.69,75.34 42.05,75.32 42.4,75.29 42.75,75.26 43.11,75.22 43.46,75.18 43.81,75.12 44.17,75.05 44.52,74.96 44.88,74.87 45.23,74.75 45.58,74.61 45.94,74.46 46.29,74.28 46.64,74.08 47,73.86 47.35,73.61 47.7,73.34 48.06,73.04 48.41,72.72 48.77,72.37 49.12,72.01 49.47,71.62 49.83,71.21 50.18,70.78 50.53,70.34 50.89,69.88 51.24,69.41 51.6,68.93 51.95,68.44 52.3,67.95 52.66,67.44 53.01,66.93 53.36,66.42 53.72,65.9 54.07,65.38 54.42,64.85 54.78,64.31 55.13,63.76 55.49,63.21 55.84,62.65 56.19,62.07 56.55,61.48 56.9,60.88 57.25,60.26 57.61,59.62 57.96,58.97 58.32,58.29 58.67,57.6 59.02,56.88 59.38,56.14 59.73,55.38 60.08,54.61 60.44,53.81 60.79,52.99 61.14,52.16 61.5,51.32 61.85,50.46 62.21,49.6 62.56,48.74 62.91,47.88 63.27,47.03 63.62,46.2 63.97,45.38 64.33,44.6 64.68,43.85 65.04,43.13 65.39,42.46 65.74,41.84 66.1,41.27 66.45,40.74 66.8,40.27 67.16,39.84 67.51,39.45 67.86,39.1 68.22,38.78 68.57,38.47 68.93,38.16 69.28,37.85 69.63,37.51 69.99,37.14 70.34,36.72 70.69,36.25 71.05,35.7 71.4,35.08 71.76,34.38 72.11,33.59 72.46,32.72 72.82,31.77 73.17,30.74 73.52,29.65 73.88,28.51 74.23,27.33 74.58,26.14 74.94,24.93 75.29,23.74 75.65,22.58 76,21.47 76.35,20.42 76.71,19.45 77.06,18.57 77.41,17.8 77.77,17.13 78.12,16.58 78.48,16.14 78.83,15.83 79.18,15.64 79.54,15.57 79.89,15.61 80.24,15.77 80.6,16.03 80.95,16.39 81.3,16.85 81.66,17.38 82.01,18 82.37,18.68 82.72,19.42 83.07,20.22 83.43,21.06 83.78,21.93 84.13,22.83 84.49,23.76 84.84,24.69 85.19,25.63 85.55,26.58 85.9,27.51 86.26,28.44 86.61,29.36 86.96,30.26 87.32,31.14 87.67,32.01 88.02,32.86 88.38,33.68 88.73,34.49 89.09,35.29 89.44,36.07 89.79,36.84 90.15,37.6 90.5,38.36 90.85,39.11 91.21,39.87 91.56,40.64 91.91,41.42 92.27,42.21 92.62,43.03 92.98,43.86 93.33,44.72 93.68,45.61 94.04,46.53 94.39,47.48 94.74,48.46 95.1,49.49 95.45,50.54 95.81,51.63 96.16,52.76 96.51,53.91 96.87,55.08 97.22,56.28 97.57,57.48 97.93,58.7 98.28,59.91 98.63,61.11 98.99,62.29 99.34,63.45 99.7,64.57 100.05,65.64 100.4,66.67 100.76,67.64 101.11,68.55 101.46,69.39 101.82,70.16 102.17,70.86 102.53,71.49 102.88,72.06 103.23,72.55 103.59,72.98 103.94,73.34 104.29,73.65 104.65,73.91 105,74.12 105.35,74.28 105.71,74.41 106.06,74.5 106.42,74.57 106.77,74.61 107.12,74.63 107.48,74.63 107.83,74.63 108.18,74.61 108.54,74.6 108.89,74.57 109.25,74.55 109.6,74.53 109.95,74.51 110.31,74.5 110.66,74.49 111.01,74.49 111.37,74.5 111.72,74.51 112.07,74.53 112.43,74.56 112.78,74.59 113.14,74.63 113.49,74.67 113.84,74.72 114.2,74.77 114.55,74.82 114.9,74.87 115.26,74.92 115.61,74.97 115.97,75.02 116.32,75.06 116.67,75.11 117.03,75.15 117.38,75.18 117.73,75.21 118.09,75.24 118.44,75.27 118.79,75.29 119.15,75.31 119.5,75.33 119.86,75.34 120.21,75.35 120.56,75.36 120.92,75.37 121.27,75.38 121.62,75.38 121.98,75.39 122.33,75.39 122.69,75.39 123.04,75.39 123.39,75.4 123.75,75.4 124.1,75.4"/><rect class="a" x="35.6" y="5.2" width="92.8" height="70.2"/><path class="a tk" d="M49.2 75.4v2.5M70.6 75.4v2.5M92 75.4v2.5M113.4 75.4v2.5M35.6 75.4h-2.5M35.6 59.4h-2.5M35.6 43.4h-2.5M35.6 27.4h-2.5M35.6 11.4h-2.5"/><text class="m" x="49.2" y="84.15">2</text><text class="m" x="70.6" y="84.15">4</text><text class="m" x="92" y="84.15">6</text><text class="m" x="113.4" y="84.15">8</text><text class="e" x="30.7" y="78.15">0.0</text><text class="e" x="30.7" y="62.15">0.1</text><text class="e" x="30.7" y="46.15">0.2</text><text class="e" x="30.7" y="30.15">0.3</text><text class="e" x="30.7" y="14.15">0.4</text><text class="m l" x="82" y="92.6">red_blood_cell_count</text><text class="m l" transform="translate(17.3,41.7) rotate(-90)">Density</text></g>
<g transform="translate(411,291)"><path class="b" d="M52.4 75.4H59.8V8.4H52.4ZM82 75.4H89.4V36H82ZM104.2 75.4H111.6V74.86H104.2Z"/><polyline class="k" points="39.22,74.9 39.58,74.76 39.94,74.6 40.3,74.39 40.65,74.14 41.01,73.84 41.37,73.48 41.73,73.05 42.09,72.54 42.44,71.95 42.8,71.26 43.16,70.47 43.52,69.57 43.88,68.55 44.23,67.4 44.59,66.12 44.95,64.71 45.31,63.17 45.67,61.5 46.02,59.7 46.38,57.79 46.74,55.77 47.1,53.67 47.46,51.5 47.81,49.29 48.17,47.07 48.53,44.86 48.89,42.69 49.25,40.61 49.6,38.63 49.96,36.8 50.32,35.15 50.68,33.7 51.04,32.49 51.39,31.54 51.75,30.86 52.11,30.47 52.47,30.38 52.83,30.58 53.18,31.08 53.54,31.87 53.9,32.92 54.26,34.22 54.61,35.75 54.97,37.47 55.33,39.36 55.69,41.38 56.05,43.5 56.4,45.68 56.76,47.9 57.12,50.13 57.48,52.32 57.84,54.47 58.19,56.54 58.55,58.52 58.91,60.39 59.27,62.14 59.63,63.76 59.98,65.26 60.34,66.62 60.7,67.85 61.06,68.95 61.42,69.92 61.77,70.78 62.13,71.53 62.49,72.18 62.85,72.74 63.21,73.21 63.56,73.61 63.92,73.95 64.28,74.23 64.64,74.46 65,74.65 65.35,74.8 65.71,74.92 66.07,75.01 66.43,75.08 66.79,75.12 67.14,75.15 67.5,75.16 67.86,75.16 68.22,75.14 68.58,75.1 68.93,75.04 69.29,74.97 69.65,74.87 70.01,74.75 70.37,74.6 70.72,74.41 71.08,74.19 71.44,73.92 71.8,73.61 72.16,73.25 72.51,72.83 72.87,72.34 73.23,71.79 73.59,71.17 73.95,70.47 74.3,69.7 74.66,68.84 75.02,67.91 75.38,66.9 75.74,65.82 76.09,64.68 76.45,63.48 76.81,62.23 77.17,60.94 77.53,59.64 77.88,58.33 78.24,57.04 78.6,55.78 78.96,54.57 79.32,53.43 79.67,52.39 80.03,51.45 80.39,50.64 80.75,49.98 81.11,49.47 81.46,49.12 81.82,48.94 82.18,48.94 82.54,49.12 82.89,49.47 83.25,49.98 83.61,50.64 83.97,51.45 84.33,52.39 84.68,53.43 85.04,54.57 85.4,55.78 85.76,57.04 86.12,58.33 86.47,59.64 86.83,60.94 87.19,62.23 87.55,63.48 87.91,64.68 88.26,65.82 88.62,66.9 88.98,67.91 89.34,68.84 89.7,69.7 90.05,70.47 90.41,71.17 90.77,71.79 91.13,72.34 91.49,72.83 91.84,73.25 92.2,73.62 92.56,73.93 92.92,74.19 93.28,74.42 93.63,74.61 93.99,74.76 94.35,74.89 94.71,75 95.07,75.08 95.42,75.15 95.78,75.21 96.14,75.25 96.5,75.28 96.86,75.31 97.21,75.33 97.57,75.35 97.93,75.36 98.29,75.37 98.65,75.38 99,75.38 99.36,75.38 99.72,75.38 100.08,75.38 100.44,75.38 100.79,75.38 101.15,75.38 101.51,75.37 101.87,75.37 102.23,75.36 102.58,75.36 102.94,75.35 103.3,75.34 103.66,75.33 104.02,75.32 104.37,75.31 104.73,75.29 105.09,75.28 105.45,75.26 105.81,75.25 106.16,75.23 106.52,75.22 106.88,75.2 107.24,75.18 107.6,75.16 107.95,75.14 108.31,75.13 108.67,75.11 109.03,75.1 109.39,75.08 109.74,75.07 110.1,75.06 110.46,75.05 110.82,75.05 111.17,75.04 111.53,75.04 111.89,75.04 112.25,75.04 112.61,75.05 112.96,75.06 113.32,75.07 113.68,75.08 114.04,75.09 114.4,75.11 114.75,75.12 115.11,75.14 115.47,75.16 115.83,75.17 116.19,75.19 116.54,75.21 116.9,75.23 117.26,75.24 117.62,75.26 117.98,75.27 118.33,75.29 118.69,75.3 119.05,75.31 119.41,75.33 119.77,75.34 120.12,75.35 120.48,75.35 120.84,75.36 121.2,75.37 121.56,75.37 121.91,75.38 122.27,75.38 122.63,75.38 122.99,75.39 123.35,75.39 123.7,75.39 124.06,75.39 124.42,75.39 124.78,75.4"/><rect class="a" x="35.6" y="5.2" width="92.8" height="70.2"/><path class="a tk" d="M52.4 75.4v2.5M82 75.4v2.5M111.6 75.4v2.5M35.6 75.4h-2.5M35.6 48.6h-2.5M35.6 21.8h-2.5"/><text class="m" x="52.4" y="84.15">0</text><text class="m" x="82" y="84.15">1</text><text class="m" x="111.6" y="84.15">2</text><text class="e" x="30.7" y="78.15">0</text><text class="e" x="30.7" y="51.35">1</text><text class="e" x="30.7" y="24.55">2</text><text class="m l" x="82" y="92.6">hypertension</text><text class="m l" transform="translate(23.3,41.7) rotate(-90)">Density</text></g>
<g transform="translate(548,291)"><path class="b" d="M52.4 75.4H59.8V8.4H52.4ZM82 75.4H89.4V40H82ZM104.2 75.4H111.6V74.89H104.2Z"/><polyline class="k" points="39.34,74.9 39.69,74.76 40.05,74.59 40.41,74.38 40.77,74.12 41.12,73.81 41.48,73.44 41.84,73.01 42.19,72.49 42.55,71.88 42.91,71.18 43.26,70.37 43.62,69.45 43.98,68.4 44.34,67.23 44.69,65.92 45.05,64.48 45.41,62.9 45.76,61.19 46.12,59.35 46.48,57.4 46.83,55.34 47.19,53.2 47.55,50.99 47.91,48.75 48.26,46.49 48.62,44.25 48.98,42.07 49.33,39.97 49.69,37.99 50.05,36.16 50.4,34.52 50.76,33.1 51.12,31.92 51.48,31.01 51.83,30.38 52.19,30.05 52.55,30.02 52.9,30.3 53.26,30.87 53.62,31.74 53.97,32.87 54.33,34.25 54.69,35.85 55.05,37.65 55.4,39.6 55.76,41.69 56.12,43.86 56.47,46.09 56.83,48.35 57.19,50.59 57.54,52.81 57.9,54.96 58.26,57.04 58.62,59.01 58.97,60.87 59.33,62.6 59.69,64.21 60.04,65.68 60.4,67.01 60.76,68.21 61.12,69.27 61.47,70.22 61.83,71.05 62.19,71.77 62.54,72.39 62.9,72.92 63.26,73.37 63.61,73.75 63.97,74.07 64.33,74.33 64.69,74.54 65.04,74.72 65.4,74.86 65.76,74.97 66.11,75.05 66.47,75.11 66.83,75.16 67.18,75.18 67.54,75.2 67.9,75.19 68.26,75.18 68.61,75.14 68.97,75.09 69.33,75.03 69.68,74.94 70.04,74.84 70.4,74.7 70.75,74.54 71.11,74.34 71.47,74.11 71.83,73.83 72.18,73.51 72.54,73.13 72.9,72.7 73.25,72.21 73.61,71.65 73.97,71.02 74.32,70.32 74.68,69.55 75.04,68.71 75.4,67.8 75.75,66.82 76.11,65.78 76.47,64.69 76.82,63.55 77.18,62.38 77.54,61.19 77.89,60 78.25,58.82 78.61,57.66 78.97,56.56 79.32,55.52 79.68,54.56 80.04,53.7 80.39,52.96 80.75,52.35 81.11,51.88 81.46,51.56 81.82,51.4 82.18,51.4 82.54,51.56 82.89,51.88 83.25,52.35 83.61,52.96 83.96,53.7 84.32,54.56 84.68,55.52 85.03,56.56 85.39,57.66 85.75,58.82 86.11,60 86.46,61.19 86.82,62.38 87.18,63.55 87.53,64.69 87.89,65.78 88.25,66.82 88.6,67.8 88.96,68.71 89.32,69.55 89.68,70.32 90.03,71.02 90.39,71.65 90.75,72.21 91.1,72.7 91.46,73.13 91.82,73.51 92.17,73.83 92.53,74.11 92.89,74.35 93.25,74.54 93.6,74.71 93.96,74.85 94.32,74.96 94.67,75.05 95.03,75.13 95.39,75.19 95.74,75.23 96.1,75.27 96.46,75.3 96.82,75.33 97.17,75.34 97.53,75.36 97.89,75.37 98.24,75.37 98.6,75.38 98.96,75.38 99.31,75.38 99.67,75.39 100.03,75.39 100.39,75.38 100.74,75.38 101.1,75.38 101.46,75.38 101.81,75.37 102.17,75.37 102.53,75.36 102.88,75.35 103.24,75.34 103.6,75.34 103.96,75.33 104.31,75.31 104.67,75.3 105.03,75.29 105.38,75.27 105.74,75.26 106.1,75.24 106.46,75.23 106.81,75.21 107.17,75.19 107.53,75.18 107.88,75.16 108.24,75.14 108.6,75.13 108.95,75.11 109.31,75.1 109.67,75.09 110.03,75.07 110.38,75.07 110.74,75.06 111.1,75.06 111.45,75.05 111.81,75.05 112.17,75.06 112.52,75.06 112.88,75.07 113.24,75.08 113.6,75.09 113.95,75.1 114.31,75.11 114.67,75.13 115.02,75.15 115.38,75.16 115.74,75.18 116.09,75.2 116.45,75.21 116.81,75.23 117.17,75.25 117.52,75.26 117.88,75.28 118.24,75.29 118.59,75.3 118.95,75.32 119.31,75.33 119.66,75.34 120.02,75.35 120.38,75.35 120.74,75.36 121.09,75.37 121.45,75.37 121.81,75.38 122.16,75.38 122.52,75.39 122.88,75.39 123.23,75.39 123.59,75.39 123.95,75.39 124.31,75.4 124.66,75.4"/><rect class="a" x="35.6" y="5.2" width="92.8" height="70.2"/><path class="a tk" d="M52.4 75.4v2.5M82 75.4v2.5M111.6 75.4v2.5M35.6 75.4h-2.5M35.6 49.8h-2.5M35.6 24.2h-2.5"/><text class="m" x="52.4" y="84.15">0</text><text class="m" x="82" y="84.15">1</text><text class="m" x="111.6" y="84.15">2</text><text class="e" x="30.7" y="78.15">0</text><text class="e" x="30.7" y="52.55">1</text><text class="e" x="30.7" y="26.95">2</text><text class="m l" x="82" y="92.6">diabetes_mellitus</text><text class="m l" transform="translate(23.3,41.7) rotate(-90)">Density</text></g>
<g transform="translate(0,388)"><path class="b" d="M48.6 75.4H51.93V8.44H48.6ZM81.9 75.4H85.23V68.98H81.9ZM111.87 75.4H115.2V75.03H111.87Z"/><polyline class="k" points="39.39,75.08 39.74,74.95 40.1,74.77 40.46,74.54 40.81,74.24 41.17,73.85 41.52,73.37 41.88,72.76 42.24,72.02 42.59,71.13 42.95,70.08 43.3,68.86 43.66,67.47 44.01,65.9 44.37,64.19 44.73,62.33 45.08,60.38 45.44,58.36 45.79,56.33 46.15,54.34 46.5,52.45 46.86,50.72 47.22,49.23 47.57,48.01 47.93,47.11 48.28,46.58 48.64,46.43 48.99,46.66 49.35,47.28 49.71,48.24 50.06,49.53 50.42,51.08 50.77,52.84 51.13,54.76 51.48,56.76 51.84,58.8 52.2,60.81 52.55,62.74 52.91,64.57 53.26,66.26 53.62,67.78 53.97,69.14 54.33,70.32 54.69,71.34 55.04,72.19 55.4,72.9 55.75,73.48 56.11,73.94 56.46,74.31 56.82,74.6 57.18,74.81 57.53,74.98 57.89,75.1 58.24,75.19 58.6,75.26 58.95,75.3 59.31,75.33 59.67,75.36 60.02,75.37 60.38,75.38 60.73,75.39 61.09,75.39 61.45,75.4 61.8,75.4 62.16,75.4 62.51,75.4 62.87,75.4 63.22,75.4 63.58,75.4 63.94,75.4 64.29,75.4 64.65,75.4 65,75.4 65.36,75.4 65.71,75.4 66.07,75.4 66.43,75.4 66.78,75.4 67.14,75.4 67.49,75.4 67.85,75.4 68.2,75.4 68.56,75.4 68.92,75.4 69.27,75.4 69.63,75.4 69.98,75.4 70.34,75.4 70.69,75.4 71.05,75.39 71.41,75.39 71.76,75.39 72.12,75.38 72.47,75.38 72.83,75.36 73.18,75.35 73.54,75.33 73.9,75.31 74.25,75.28 74.61,75.23 74.96,75.18 75.32,75.12 75.67,75.04 76.03,74.95 76.39,74.85 76.74,74.72 77.1,74.58 77.45,74.43 77.81,74.26 78.16,74.08 78.52,73.89 78.88,73.69 79.23,73.5 79.59,73.31 79.94,73.13 80.3,72.98 80.65,72.84 81.01,72.74 81.37,72.67 81.72,72.63 82.08,72.63 82.43,72.67 82.79,72.74 83.15,72.84 83.5,72.98 83.86,73.13 84.21,73.31 84.57,73.5 84.92,73.69 85.28,73.89 85.64,74.08 85.99,74.26 86.35,74.43 86.7,74.58 87.06,74.72 87.41,74.85 87.77,74.95 88.13,75.04 88.48,75.12 88.84,75.18 89.19,75.23 89.55,75.28 89.9,75.31 90.26,75.33 90.62,75.35 90.97,75.36 91.33,75.38 91.68,75.38 92.04,75.39 92.39,75.39 92.75,75.39 93.11,75.4 93.46,75.4 93.82,75.4 94.17,75.4 94.53,75.4 94.88,75.4 95.24,75.4 95.6,75.4 95.95,75.4 96.31,75.4 96.66,75.4 97.02,75.4 97.37,75.4 97.73,75.4 98.09,75.4 98.44,75.4 98.8,75.4 99.15,75.4 99.51,75.4 99.86,75.4 100.22,75.4 100.58,75.4 100.93,75.4 101.29,75.4 101.64,75.4 102,75.4 102.35,75.4 102.71,75.4 103.07,75.4 103.42,75.4 103.78,75.4 104.13,75.4 104.49,75.4 104.85,75.4 105.2,75.4 105.56,75.4 105.91,75.4 106.27,75.4 106.62,75.4 106.98,75.4 107.34,75.39 107.69,75.39 108.05,75.39 108.4,75.39 108.76,75.38 109.11,75.38 109.47,75.37 109.83,75.37 110.18,75.36 110.54,75.35 110.89,75.34 111.25,75.33 111.6,75.32 111.96,75.31 112.32,75.3 112.67,75.29 113.03,75.28 113.38,75.27 113.74,75.26 114.09,75.25 114.45,75.25 114.81,75.24 115.16,75.24 115.52,75.24 115.87,75.24 116.23,75.25 116.58,75.26 116.94,75.26 117.3,75.27 117.65,75.28 118.01,75.29 118.36,75.31 118.72,75.32 119.07,75.33 119.43,75.34 119.79,75.35 120.14,75.36 120.5,75.36 120.85,75.37 121.21,75.38 121.56,75.38 121.92,75.39 122.28,75.39 122.63,75.39 122.99,75.39 123.34,75.4 123.7,75.4 124.06,75.4 124.41,75.4"/><rect class="a" x="35.6" y="5.2" width="92.8" height="70.2"/><path class="a tk" d="M48.6 75.4v2.5M81.9 75.4v2.5M115.2 75.4v2.5M35.6 75.4h-2.5M35.6 60.65h-2.5M35.6 45.9h-2.5M35.6 31.15h-2.5M35.6 16.4h-2.5"/><text class="m" x="48.6" y="84.15">0</text><text class="m" x="81.9" y="84.15">1</text><text class="m" x="115.2" y="84.15">2</text><text class="e" x="30.7" y="78.15">0</text><text class="e" x="30.7" y="63.4">2</text><text class="e" x="30.7" y="48.65">4</text><text class="e" x="30.7" y="33.9">6</text><text class="e" x="30.7" y="19.15">8</text><text class="m l" x="82" y="92.6">coronary_artery_disease</text><text class="m l" transform="translate(23.3,41.7) rotate(-90)">Density</text></g>
<g transform="translate(137,388)"><path class="b" d="M51.2 75.4H54.28V8.45H51.2ZM82 75.4H85.08V57.43H82ZM109.72 75.4H112.8V75.15H109.72Z"/><polyline class="k" points="40,75.16 40.35,75.08 40.7,74.98 41.06,74.85 41.41,74.69 41.76,74.5 42.11,74.26 42.46,73.98 42.81,73.63 43.16,73.23 43.52,72.75 43.87,72.2 44.22,71.57 44.57,70.85 44.92,70.04 45.27,69.15 45.62,68.18 45.98,67.12 46.33,66 46.68,64.82 47.03,63.59 47.38,62.34 47.73,61.08 48.08,59.84 48.44,58.65 48.79,57.52 49.14,56.48 49.49,55.56 49.84,54.77 50.19,54.15 50.54,53.7 50.9,53.43 51.25,53.36 51.6,53.49 51.95,53.8 52.3,54.3 52.65,54.97 53,55.79 53.36,56.75 53.71,57.81 54.06,58.96 54.41,60.18 54.76,61.42 55.11,62.68 55.47,63.93 55.82,65.14 56.17,66.31 56.52,67.42 56.87,68.45 57.22,69.4 57.57,70.27 57.93,71.05 58.28,71.75 58.63,72.36 58.98,72.89 59.33,73.34 59.68,73.73 60.03,74.06 60.39,74.33 60.74,74.56 61.09,74.74 61.44,74.89 61.79,75.01 62.14,75.1 62.49,75.17 62.85,75.23 63.2,75.27 63.55,75.31 63.9,75.33 64.25,75.35 64.6,75.36 64.95,75.37 65.31,75.38 65.66,75.39 66.01,75.39 66.36,75.39 66.71,75.39 67.06,75.4 67.41,75.4 67.77,75.39 68.12,75.39 68.47,75.39 68.82,75.39 69.17,75.38 69.52,75.38 69.87,75.37 70.23,75.36 70.58,75.35 70.93,75.33 71.28,75.3 71.63,75.28 71.98,75.24 72.33,75.19 72.69,75.14 73.04,75.07 73.39,74.99 73.74,74.89 74.09,74.77 74.44,74.64 74.8,74.48 75.15,74.3 75.5,74.1 75.85,73.88 76.2,73.63 76.55,73.36 76.9,73.07 77.26,72.76 77.61,72.44 77.96,72.11 78.31,71.77 78.66,71.44 79.01,71.11 79.36,70.79 79.72,70.5 80.07,70.23 80.42,69.99 80.77,69.8 81.12,69.65 81.47,69.54 81.82,69.49 82.18,69.49 82.53,69.54 82.88,69.65 83.23,69.8 83.58,69.99 83.93,70.23 84.28,70.5 84.64,70.79 84.99,71.11 85.34,71.44 85.69,71.77 86.04,72.11 86.39,72.44 86.74,72.76 87.1,73.07 87.45,73.36 87.8,73.63 88.15,73.88 88.5,74.1 88.85,74.3 89.2,74.48 89.56,74.64 89.91,74.77 90.26,74.89 90.61,74.99 90.96,75.07 91.31,75.14 91.67,75.19 92.02,75.24 92.37,75.28 92.72,75.3 93.07,75.33 93.42,75.35 93.77,75.36 94.13,75.37 94.48,75.38 94.83,75.38 95.18,75.39 95.53,75.39 95.88,75.39 96.23,75.4 96.59,75.4 96.94,75.4 97.29,75.4 97.64,75.4 97.99,75.4 98.34,75.4 98.69,75.4 99.05,75.4 99.4,75.4 99.75,75.4 100.1,75.4 100.45,75.4 100.8,75.4 101.15,75.4 101.51,75.4 101.86,75.4 102.21,75.4 102.56,75.4 102.91,75.4 103.26,75.4 103.61,75.4 103.97,75.39 104.32,75.39 104.67,75.39 105.02,75.39 105.37,75.39 105.72,75.39 106.07,75.38 106.43,75.38 106.78,75.38 107.13,75.37 107.48,75.37 107.83,75.37 108.18,75.36 108.53,75.36 108.89,75.35 109.24,75.35 109.59,75.34 109.94,75.34 110.29,75.33 110.64,75.33 111,75.33 111.35,75.32 111.7,75.32 112.05,75.32 112.4,75.32 112.75,75.32 113.1,75.32 113.46,75.32 113.81,75.32 114.16,75.32 114.51,75.32 114.86,75.33 115.21,75.33 115.56,75.34 115.92,75.34 116.27,75.35 116.62,75.35 116.97,75.36 117.32,75.36 117.67,75.36 118.02,75.37 118.38,75.37 118.73,75.38 119.08,75.38 119.43,75.38 119.78,75.39 120.13,75.39 120.48,75.39 120.84,75.39 121.19,75.39 121.54,75.39 121.89,75.4 122.24,75.4 122.59,75.4 122.94,75.4 123.3,75.4 123.65,75.4 124,75.4"/><rect class="a" x="35.6" y="5.2" width="92.8" height="70.2"/><path class="a tk" d="M51.2 75.4v2.5M82 75.4v2.5M112.8 75.4v2.5M35.6 75.4h-2.5M35.6 58.45h-2.5M35.6 41.5h-2.5M35.6 24.55h-2.5M35.6 7.6h-2.5"/><text class="m" x="51.2" y="84.15">0</text><text class="m" x="82" y="84.15">1</text><text class="m" x="112.8" y="84.15">2</text><text class="e" x="30.7" y="78.15">0</text><text class="e" x="30.7" y="61.2">2</text><text class="e" x="30.7" y="44.25">4</text><text class="e" x="30.7" y="27.3">6</text><text class="e" x="30.7" y="10.35">8</text><text class="m l" x="82" y="92.6">appetite</text><text class="m l" transform="translate(23.3,41.7) rotate(-90)">Density</text></g>
<g transform="translate(274,388)"><path class="b" d="M51 75.4H54.11V8.37H51ZM82.1 75.4H85.21V59.02H82.1ZM110.09 75.4H113.2V75.15H110.09Z"/><polyline class="k" points="39.87,75.15 40.22,75.07 40.58,74.97 40.93,74.84 41.28,74.67 41.64,74.47 41.99,74.23 42.34,73.93 42.7,73.57 43.05,73.14 43.4,72.64 43.76,72.07 44.11,71.4 44.46,70.65 44.82,69.81 45.17,68.88 45.52,67.86 45.88,66.76 46.23,65.59 46.58,64.36 46.94,63.09 47.29,61.8 47.64,60.51 48,59.25 48.35,58.03 48.7,56.89 49.06,55.86 49.41,54.95 49.76,54.19 50.12,53.61 50.47,53.21 50.82,53.01 51.18,53.01 51.53,53.21 51.88,53.61 52.24,54.2 52.59,54.96 52.94,55.86 53.3,56.9 53.65,58.04 54.01,59.25 54.36,60.52 54.71,61.81 55.07,63.1 55.42,64.37 55.77,65.6 56.13,66.77 56.48,67.87 56.83,68.88 57.19,69.82 57.54,70.66 57.89,71.41 58.25,72.07 58.6,72.65 58.95,73.15 59.31,73.57 59.66,73.93 60.01,74.23 60.37,74.47 60.72,74.68 61.07,74.84 61.43,74.97 61.78,75.07 62.13,75.15 62.49,75.21 62.84,75.26 63.19,75.3 63.55,75.33 63.9,75.35 64.25,75.36 64.61,75.37 64.96,75.38 65.31,75.39 65.67,75.39 66.02,75.39 66.37,75.4 66.73,75.4 67.08,75.4 67.43,75.4 67.79,75.4 68.14,75.39 68.49,75.39 68.85,75.39 69.2,75.39 69.55,75.38 69.91,75.38 70.26,75.37 70.61,75.35 70.97,75.34 71.32,75.32 71.67,75.29 72.03,75.26 72.38,75.22 72.74,75.17 73.09,75.11 73.44,75.04 73.8,74.95 74.15,74.85 74.5,74.73 74.86,74.59 75.21,74.42 75.56,74.24 75.92,74.03 76.27,73.81 76.62,73.56 76.98,73.29 77.33,73 77.68,72.7 78.04,72.39 78.39,72.08 78.74,71.76 79.1,71.45 79.45,71.15 79.8,70.88 80.16,70.62 80.51,70.4 80.86,70.22 81.22,70.07 81.57,69.98 81.92,69.93 82.28,69.93 82.63,69.98 82.98,70.07 83.34,70.22 83.69,70.4 84.04,70.62 84.4,70.88 84.75,71.15 85.1,71.45 85.46,71.76 85.81,72.08 86.16,72.39 86.52,72.7 86.87,73 87.22,73.29 87.58,73.56 87.93,73.81 88.28,74.03 88.64,74.24 88.99,74.42 89.34,74.59 89.7,74.73 90.05,74.85 90.4,74.95 90.76,75.04 91.11,75.11 91.46,75.17 91.82,75.22 92.17,75.26 92.53,75.29 92.88,75.32 93.23,75.34 93.59,75.35 93.94,75.37 94.29,75.38 94.65,75.38 95,75.39 95.35,75.39 95.71,75.39 96.06,75.4 96.41,75.4 96.77,75.4 97.12,75.4 97.47,75.4 97.83,75.4 98.18,75.4 98.53,75.4 98.89,75.4 99.24,75.4 99.59,75.4 99.95,75.4 100.3,75.4 100.65,75.4 101.01,75.4 101.36,75.4 101.71,75.4 102.07,75.4 102.42,75.4 102.77,75.4 103.13,75.4 103.48,75.4 103.83,75.4 104.19,75.4 104.54,75.39 104.89,75.39 105.25,75.39 105.6,75.39 105.95,75.39 106.31,75.39 106.66,75.38 107.01,75.38 107.37,75.38 107.72,75.37 108.07,75.37 108.43,75.36 108.78,75.36 109.13,75.35 109.49,75.35 109.84,75.34 110.19,75.34 110.55,75.34 110.9,75.33 111.26,75.33 111.61,75.32 111.96,75.32 112.32,75.32 112.67,75.32 113.02,75.32 113.38,75.32 113.73,75.32 114.08,75.32 114.44,75.32 114.79,75.32 115.14,75.33 115.5,75.33 115.85,75.34 116.2,75.34 116.56,75.34 116.91,75.35 117.26,75.35 117.62,75.36 117.97,75.36 118.32,75.37 118.68,75.37 119.03,75.38 119.38,75.38 119.74,75.38 120.09,75.39 120.44,75.39 120.8,75.39 121.15,75.39 121.5,75.39 121.86,75.39 122.21,75.4 122.56,75.4 122.92,75.4 123.27,75.4 123.62,75.4 123.98,75.4 124.33,75.4"/><rect class="a" x="35.6" y="5.2" width="92.8" height="70.2"/><path class="a tk" d="M51 75.4v2.5M82.1 75.4v2.5M113.2 75.4v2.5M35.6 75.4h-2.5M35.6 58.85h-2.5M35.6 42.3h-2.5M35.6 25.75h-2.5M35.6 9.2h-2.5"/><text class="m" x="51" y="84.15">0</text><text class="m" x="82.1" y="84.15">1</text><text class="m" x="113.2" y="84.15">2</text><text class="e" x="30.7" y="78.15">0</text><text class="e" x="30.7" y="61.6">2</text><text class="e" x="30.7" y="45.05">4</text><text class="e" x="30.7" y="28.5">6</text><text class="e" x="30.7" y="11.95">8</text><text class="m l" x="82" y="92.6">peda_edema</text><text class="m l" transform="translate(23.3,41.7) rotate(-90)">Density</text></g>
<g transform="translate(411,388)"><path class="b" d="M50.4 75.4H53.56V8.41H50.4ZM82 75.4H85.16V63H82ZM110.44 75.4H113.6V75.16H110.44Z"/><polyline class="k" points="40.02,75.13 40.37,75.03 40.72,74.91 41.07,74.75 41.42,74.56 41.78,74.31 42.13,74 42.48,73.62 42.83,73.17 43.18,72.63 43.53,71.99 43.88,71.26 44.24,70.41 44.59,69.45 44.94,68.38 45.29,67.2 45.64,65.92 45.99,64.56 46.34,63.13 46.69,61.65 47.05,60.14 47.4,58.65 47.75,57.2 48.1,55.83 48.45,54.57 48.8,53.46 49.15,52.53 49.5,51.8 49.86,51.29 50.21,51.03 50.56,51.02 50.91,51.26 51.26,51.74 51.61,52.45 51.96,53.36 52.31,54.46 52.67,55.7 53.02,57.07 53.37,58.51 53.72,60 54.07,61.5 54.42,62.98 54.77,64.42 55.13,65.79 55.48,67.08 55.83,68.27 56.18,69.35 56.53,70.32 56.88,71.18 57.23,71.93 57.58,72.57 57.94,73.12 58.29,73.58 58.64,73.97 58.99,74.28 59.34,74.53 59.69,74.74 60.04,74.9 60.39,75.02 60.75,75.12 61.1,75.19 61.45,75.25 61.8,75.29 62.15,75.32 62.5,75.35 62.85,75.36 63.21,75.37 63.56,75.38 63.91,75.39 64.26,75.39 64.61,75.39 64.96,75.4 65.31,75.4 65.66,75.4 66.02,75.4 66.37,75.4 66.72,75.4 67.07,75.4 67.42,75.4 67.77,75.4 68.12,75.4 68.47,75.4 68.83,75.4 69.18,75.4 69.53,75.39 69.88,75.39 70.23,75.39 70.58,75.38 70.93,75.37 71.29,75.36 71.64,75.35 71.99,75.33 72.34,75.31 72.69,75.28 73.04,75.24 73.39,75.2 73.74,75.14 74.1,75.07 74.45,74.98 74.8,74.88 75.15,74.76 75.5,74.63 75.85,74.47 76.2,74.29 76.55,74.09 76.91,73.87 77.26,73.63 77.61,73.38 77.96,73.11 78.31,72.84 78.66,72.56 79.01,72.29 79.37,72.02 79.72,71.77 80.07,71.53 80.42,71.33 80.77,71.16 81.12,71.02 81.47,70.93 81.82,70.89 82.18,70.89 82.53,70.93 82.88,71.02 83.23,71.16 83.58,71.33 83.93,71.53 84.28,71.77 84.63,72.02 84.99,72.29 85.34,72.56 85.69,72.84 86.04,73.11 86.39,73.38 86.74,73.63 87.09,73.87 87.45,74.09 87.8,74.29 88.15,74.47 88.5,74.63 88.85,74.76 89.2,74.88 89.55,74.98 89.9,75.07 90.26,75.14 90.61,75.2 90.96,75.24 91.31,75.28 91.66,75.31 92.01,75.33 92.36,75.35 92.71,75.36 93.07,75.37 93.42,75.38 93.77,75.39 94.12,75.39 94.47,75.39 94.82,75.4 95.17,75.4 95.53,75.4 95.88,75.4 96.23,75.4 96.58,75.4 96.93,75.4 97.28,75.4 97.63,75.4 97.98,75.4 98.34,75.4 98.69,75.4 99.04,75.4 99.39,75.4 99.74,75.4 100.09,75.4 100.44,75.4 100.79,75.4 101.15,75.4 101.5,75.4 101.85,75.4 102.2,75.4 102.55,75.4 102.9,75.4 103.25,75.4 103.61,75.4 103.96,75.4 104.31,75.4 104.66,75.4 105.01,75.4 105.36,75.39 105.71,75.39 106.06,75.39 106.42,75.39 106.77,75.39 107.12,75.39 107.47,75.38 107.82,75.38 108.17,75.37 108.52,75.37 108.87,75.37 109.23,75.36 109.58,75.36 109.93,75.35 110.28,75.35 110.63,75.34 110.98,75.34 111.33,75.33 111.69,75.33 112.04,75.32 112.39,75.32 112.74,75.32 113.09,75.31 113.44,75.31 113.79,75.31 114.14,75.31 114.5,75.32 114.85,75.32 115.2,75.32 115.55,75.33 115.9,75.33 116.25,75.34 116.6,75.34 116.95,75.35 117.31,75.35 117.66,75.36 118.01,75.36 118.36,75.37 118.71,75.37 119.06,75.38 119.41,75.38 119.76,75.38 120.12,75.39 120.47,75.39 120.82,75.39 121.17,75.39 121.52,75.39 121.87,75.4 122.22,75.4 122.58,75.4 122.93,75.4 123.28,75.4 123.63,75.4 123.98,75.4"/><rect class="a" x="35.6" y="5.2" width="92.8" height="70.2"/><path class="a tk" d="M50.4 75.4v2.5M82 75.4v2.5M113.6 75.4v2.5M35.6 75.4h-2.5M35.6 59.6h-2.5M35.6 43.8h-2.5M35.6 28h-2.5M35.6 12.2h-2.5"/><text class="m" x="50.4" y="84.15">0</text><text class="m" x="82" y="84.15">1</text><text class="m" x="113.6" y="84.15">2</text><text class="e" x="30.7" y="78.15">0</text><text class="e" x="30.7" y="62.35">2</text><text class="e" x="30.7" y="46.55">4</text><text class="e" x="30.7" y="30.75">6</text><text class="e" x="30.7" y="14.95">8</text><text class="m l" x="82" y="92.6">aanemia</text><text class="m l" transform="translate(23.3,41.7) rotate(-90)">Density</text></g>
<g transform="translate(548,388)"><path class="b" d="M59.2 75.4H70.55V8.38H59.2ZM93.25 75.4H104.6V35H93.25Z"/><polyline class="k" points="39.49,74.89 39.85,74.8 40.2,74.69 40.56,74.58 40.91,74.44 41.27,74.29 41.62,74.11 41.98,73.91 42.33,73.69 42.69,73.44 43.04,73.16 43.4,72.84 43.75,72.49 44.11,72.1 44.46,71.67 44.82,71.2 45.17,70.68 45.52,70.11 45.88,69.49 46.23,68.81 46.59,68.08 46.94,67.29 47.3,66.45 47.65,65.54 48.01,64.58 48.36,63.55 48.72,62.46 49.07,61.32 49.43,60.12 49.78,58.87 50.14,57.56 50.49,56.21 50.85,54.81 51.2,53.38 51.56,51.92 51.91,50.43 52.27,48.93 52.62,47.42 52.98,45.91 53.33,44.4 53.69,42.92 54.04,41.46 54.4,40.04 54.75,38.67 55.11,37.36 55.46,36.11 55.82,34.95 56.17,33.87 56.53,32.88 56.88,32 57.24,31.23 57.59,30.57 57.95,30.04 58.3,29.64 58.66,29.37 59.01,29.23 59.37,29.22 59.72,29.35 60.07,29.62 60.43,30.01 60.78,30.53 61.14,31.18 61.49,31.94 61.85,32.82 62.2,33.79 62.56,34.87 62.91,36.03 63.27,37.27 63.62,38.58 63.98,39.95 64.33,41.36 64.69,42.82 65.04,44.3 65.4,45.8 65.75,47.31 66.11,48.83 66.46,50.33 66.82,51.82 67.17,53.28 67.53,54.72 67.88,56.11 68.24,57.47 68.59,58.78 68.95,60.03 69.3,61.24 69.66,62.39 70.01,63.48 70.37,64.51 70.72,65.48 71.08,66.39 71.43,67.24 71.79,68.03 72.14,68.76 72.5,69.44 72.85,70.07 73.21,70.64 73.56,71.16 73.92,71.64 74.27,72.07 74.62,72.47 74.98,72.82 75.33,73.14 75.69,73.42 76.04,73.67 76.4,73.9 76.75,74.1 77.11,74.27 77.46,74.43 77.82,74.56 78.17,74.68 78.53,74.78 78.88,74.87 79.24,74.94 79.59,75.01 79.95,75.06 80.3,75.1 80.66,75.14 81.01,75.17 81.37,75.19 81.72,75.21 82.08,75.21 82.43,75.22 82.79,75.21 83.14,75.21 83.5,75.19 83.85,75.17 84.21,75.14 84.56,75.11 84.92,75.07 85.27,75.02 85.63,74.96 85.98,74.89 86.34,74.81 86.69,74.72 87.05,74.61 87.4,74.49 87.76,74.36 88.11,74.21 88.47,74.03 88.82,73.84 89.18,73.63 89.53,73.4 89.88,73.13 90.24,72.85 90.59,72.53 90.95,72.19 91.3,71.81 91.66,71.4 92.01,70.96 92.37,70.48 92.72,69.97 93.08,69.42 93.43,68.84 93.79,68.22 94.14,67.56 94.5,66.87 94.85,66.14 95.21,65.39 95.56,64.6 95.92,63.78 96.27,62.94 96.63,62.08 96.98,61.19 97.34,60.3 97.69,59.39 98.05,58.48 98.4,57.57 98.76,56.67 99.11,55.77 99.47,54.9 99.82,54.04 100.18,53.22 100.53,52.43 100.89,51.68 101.24,50.98 101.6,50.34 101.95,49.75 102.31,49.22 102.66,48.76 103.02,48.37 103.37,48.06 103.73,47.82 104.08,47.66 104.43,47.58 104.79,47.59 105.14,47.67 105.5,47.83 105.85,48.08 106.21,48.4 106.56,48.79 106.92,49.26 107.27,49.79 107.63,50.38 107.98,51.03 108.34,51.73 108.69,52.48 109.05,53.28 109.4,54.1 109.76,54.96 110.11,55.83 110.47,56.73 110.82,57.63 111.18,58.54 111.53,59.45 111.89,60.36 112.24,61.26 112.6,62.14 112.95,63 113.31,63.84 113.66,64.65 114.02,65.44 114.37,66.2 114.73,66.92 115.08,67.61 115.44,68.26 115.79,68.88 116.15,69.46 116.5,70.01 116.86,70.52 117.21,70.99 117.57,71.43 117.92,71.84 118.28,72.21 118.63,72.56 118.98,72.87 119.34,73.15 119.69,73.41 120.05,73.65 120.4,73.86 120.76,74.05 121.11,74.22 121.47,74.37 121.82,74.51 122.18,74.62 122.53,74.73 122.89,74.82 123.24,74.9 123.6,74.98 123.95,75.04 124.31,75.09"/><rect class="a" x="35.6" y="5.2" width="92.8" height="70.2"/><path class="a tk" d="M36.5 75.4v2.5M59.2 75.4v2.5M81.9 75.4v2.5M104.6 75.4v2.5M127.3 75.4v2.5M35.6 75.4h-2.5M35.6 48.7h-2.5M35.6 22h-2.5"/><text class="m" x="36.5" y="84.15">−0.5</text><text class="m" x="59.2" y="84.15">0.0</text><text class="m" x="81.9" y="84.15">0.5</text><text class="m" x="104.6" y="84.15">1.0</text><text class="m" x="127.3" y="84.15">1.5</text><text class="e" x="30.7" y="78.15">0</text><text class="e" x="30.7" y="51.45">1</text><text class="e" x="30.7" y="24.75">2</text><text class="m l" x="82" y="92.6">class</text><text class="m l" transform="translate(23.3,41.7) rotate(-90)">Density</text></g>
</svg>
</body>
</html>
